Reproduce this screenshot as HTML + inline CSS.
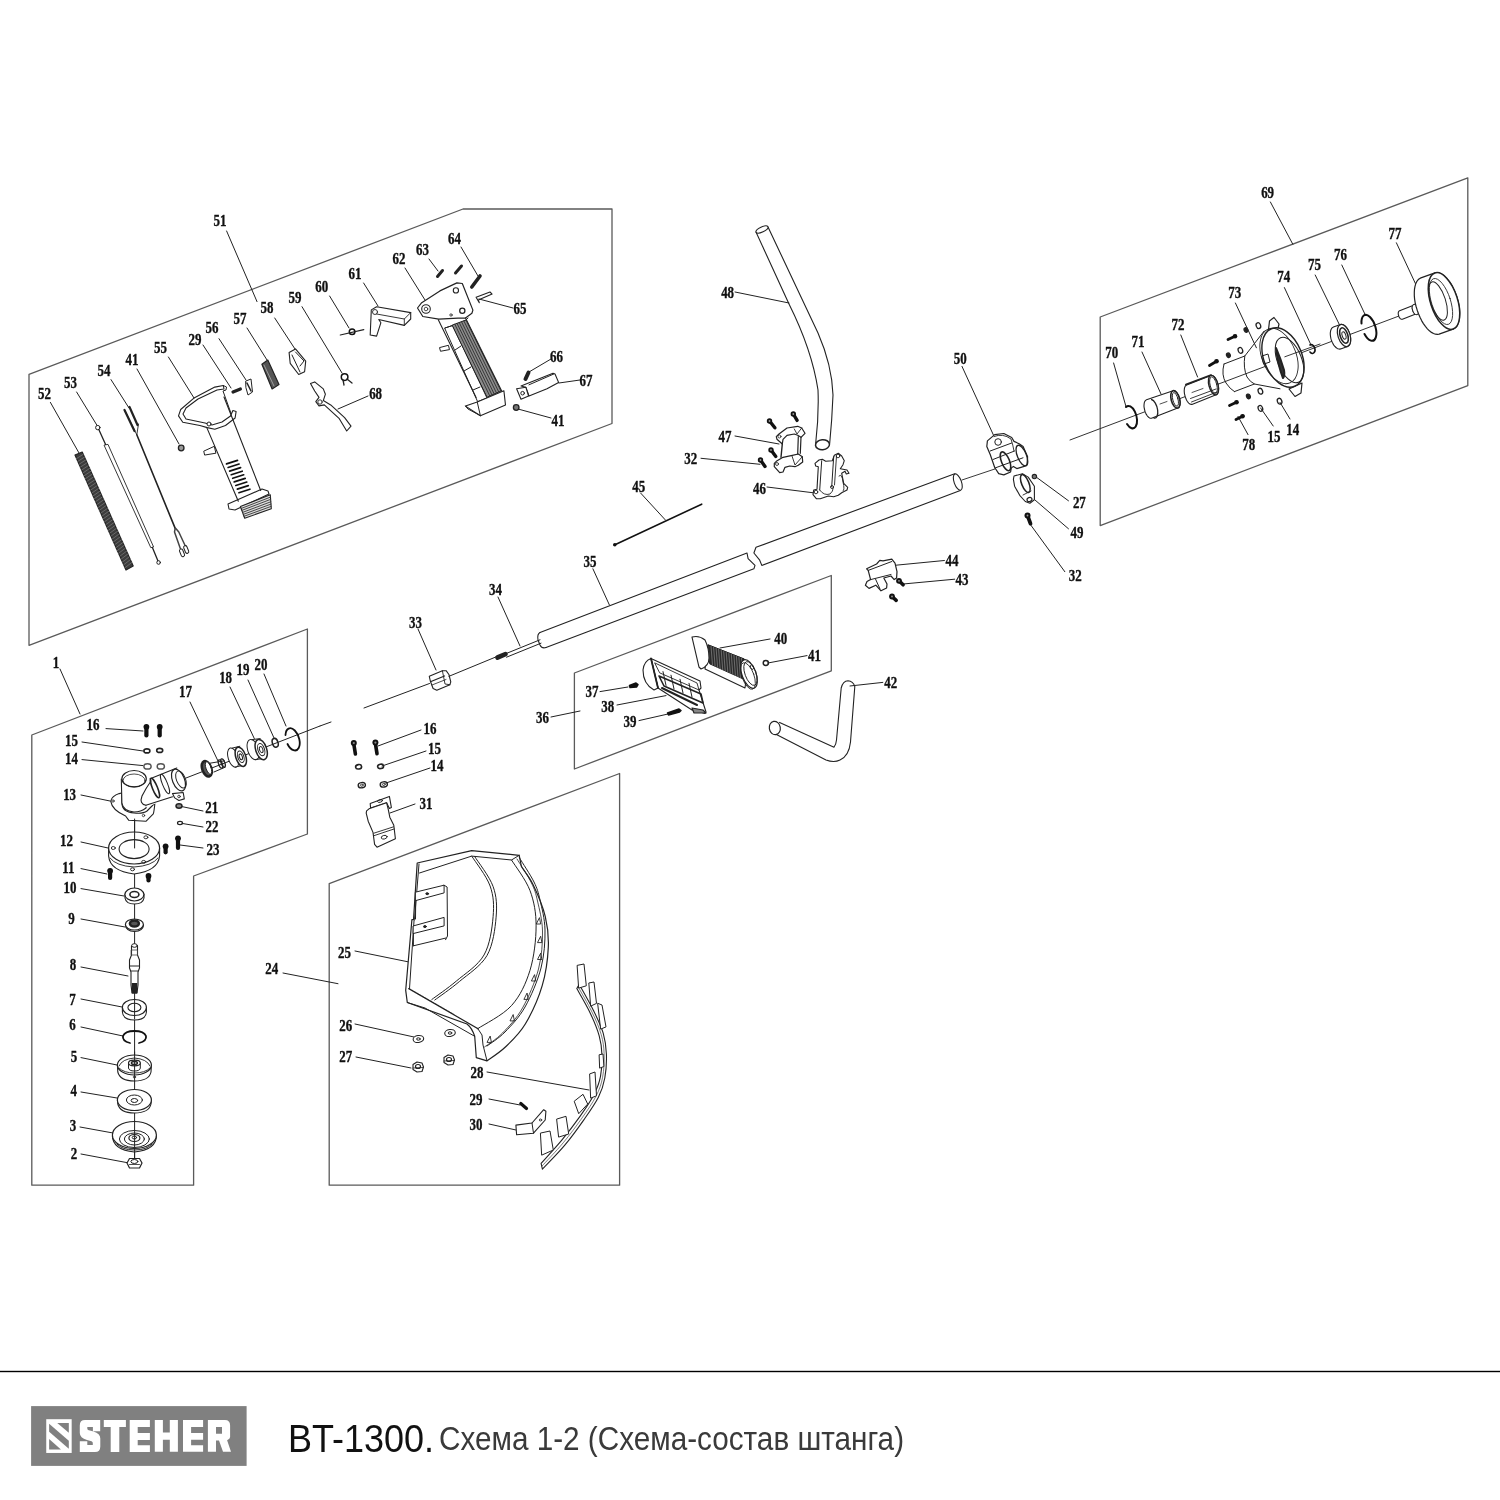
<!DOCTYPE html>
<html><head><meta charset="utf-8"><style>
html,body{margin:0;padding:0;background:#fff;width:1500px;height:1500px;overflow:hidden}
svg{position:absolute;left:0;top:0}
body{filter:grayscale(1)}
.title{position:absolute;left:290px;top:1412px;font-family:"Liberation Sans",sans-serif;white-space:nowrap;color:#111}
</style></head><body>
<svg width="1500" height="1500" viewBox="0 0 1500 1500">
<g stroke-linecap="round" stroke-linejoin="round">
<polygon points="29,374.3 463,209 612,209 612,423.5 29,645.3" fill="none" stroke="#5a5a5a" stroke-width="1.3"/>
<polygon points="1100.2,317 1467.8,177.8 1467.8,385.6 1100.2,525.6" fill="none" stroke="#5a5a5a" stroke-width="1.3"/>
<polygon points="574.4,673 831.3,575.5 831.3,670.8 574.4,769" fill="none" stroke="#5a5a5a" stroke-width="1.3"/>
<polygon points="31.8,735 307.4,629 307.4,834 193.6,876 193.6,1185.2 31.8,1185.2" fill="none" stroke="#5a5a5a" stroke-width="1.3"/>
<polygon points="329.2,883.6 619.6,773.5 619.6,1185.2 329.2,1185.2" fill="none" stroke="#5a5a5a" stroke-width="1.3"/>
<g transform="scale(0.785,1)" font-family="Liberation Serif" font-weight="bold" font-size="16.5" fill="#111" stroke="#111" stroke-width="0.35" text-anchor="middle">
<text x="280.3" y="226.5">51</text>
<text x="56.6" y="399.0">52</text>
<text x="89.7" y="388.0">53</text>
<text x="132.5" y="376.0">54</text>
<text x="168.2" y="365.0">41</text>
<text x="204.5" y="353.4">55</text>
<text x="248.4" y="344.7">29</text>
<text x="270.1" y="333.3">56</text>
<text x="305.7" y="324.0">57</text>
<text x="340.1" y="313.0">58</text>
<text x="375.8" y="302.7">59</text>
<text x="409.9" y="292.0">60</text>
<text x="452.2" y="279.0">61</text>
<text x="508.3" y="264.0">62</text>
<text x="538.1" y="255.0">63</text>
<text x="578.9" y="244.0">64</text>
<text x="662.4" y="314.0">65</text>
<text x="709.0" y="362.0">66</text>
<text x="746.5" y="386.0">67</text>
<text x="478.5" y="399.0">68</text>
<text x="710.8" y="426.0">41</text>
<text x="926.9" y="298.0">48</text>
<text x="923.6" y="442.0">47</text>
<text x="880.0" y="464.0">32</text>
<text x="967.6" y="494.0">46</text>
<text x="813.6" y="492.0">45</text>
<text x="751.6" y="566.9">35</text>
<text x="631.3" y="595.0">34</text>
<text x="529.4" y="628.0">33</text>
<text x="1223.3" y="364.0">50</text>
<text x="1375.0" y="508.0">27</text>
<text x="1372.0" y="538.5">49</text>
<text x="1369.7" y="580.7">32</text>
<text x="1212.6" y="566.5">44</text>
<text x="1225.5" y="585.2">43</text>
<text x="994.6" y="644.0">40</text>
<text x="1037.5" y="661.5">41</text>
<text x="1134.8" y="688.4">42</text>
<text x="691.2" y="723.0">36</text>
<text x="754.1" y="697.5">37</text>
<text x="774.3" y="712.0">38</text>
<text x="802.5" y="727.0">39</text>
<text x="547.8" y="734.0">16</text>
<text x="553.4" y="754.0">15</text>
<text x="556.7" y="771.0">14</text>
<text x="542.7" y="809.0">31</text>
<text x="1614.8" y="198.4">69</text>
<text x="1416.1" y="358.0">70</text>
<text x="1449.7" y="346.8">71</text>
<text x="1500.6" y="330.0">72</text>
<text x="1573.0" y="297.8">73</text>
<text x="1635.2" y="282.4">74</text>
<text x="1674.6" y="269.8">75</text>
<text x="1707.5" y="260.0">76</text>
<text x="1777.1" y="239.0">77</text>
<text x="1590.8" y="450.4">78</text>
<text x="1622.9" y="442.0">15</text>
<text x="1646.9" y="435.0">14</text>
<text x="71.3" y="668.0">1</text>
<text x="118.5" y="729.6">16</text>
<text x="91.2" y="746.0">15</text>
<text x="91.2" y="764.0">14</text>
<text x="236.4" y="697.0">17</text>
<text x="287.4" y="683.0">18</text>
<text x="309.6" y="675.0">19</text>
<text x="332.5" y="670.0">20</text>
<text x="88.7" y="800.0">13</text>
<text x="269.6" y="813.0">21</text>
<text x="270.1" y="832.0">22</text>
<text x="271.3" y="855.0">23</text>
<text x="84.6" y="846.0">12</text>
<text x="87.1" y="873.0">11</text>
<text x="89.2" y="893.0">10</text>
<text x="91.2" y="924.0">9</text>
<text x="93.0" y="970.0">8</text>
<text x="92.2" y="1005.0">7</text>
<text x="92.2" y="1030.0">6</text>
<text x="94.3" y="1062.0">5</text>
<text x="93.8" y="1096.0">4</text>
<text x="93.0" y="1131.0">3</text>
<text x="94.3" y="1159.0">2</text>
<text x="346.1" y="974.0">24</text>
<text x="438.7" y="958.0">25</text>
<text x="440.3" y="1031.0">26</text>
<text x="440.3" y="1062.0">27</text>
<text x="607.6" y="1078.0">28</text>
<text x="606.4" y="1105.0">29</text>
<text x="606.4" y="1130.0">30</text>
</g>
<line x1="226.6" y1="231" x2="257" y2="301.6" stroke="#222" stroke-width="1"/>
<line x1="50.4" y1="402.4" x2="79" y2="453" stroke="#222" stroke-width="1"/>
<line x1="76.6" y1="392" x2="97.4" y2="426" stroke="#222" stroke-width="1"/>
<line x1="111" y1="379.6" x2="129" y2="408" stroke="#222" stroke-width="1"/>
<line x1="137" y1="369" x2="179" y2="444" stroke="#222" stroke-width="1"/>
<line x1="168.4" y1="357" x2="194" y2="398" stroke="#222" stroke-width="1"/>
<line x1="203" y1="345" x2="231" y2="388" stroke="#222" stroke-width="1"/>
<line x1="219" y1="338.7" x2="246" y2="380" stroke="#222" stroke-width="1"/>
<line x1="247" y1="328" x2="267" y2="360" stroke="#222" stroke-width="1"/>
<line x1="274.7" y1="318" x2="295" y2="349" stroke="#222" stroke-width="1"/>
<line x1="302" y1="306.7" x2="342" y2="373" stroke="#222" stroke-width="1"/>
<line x1="329.6" y1="296" x2="349" y2="328" stroke="#222" stroke-width="1"/>
<line x1="363.6" y1="283" x2="378" y2="306" stroke="#222" stroke-width="1"/>
<line x1="405" y1="268" x2="425" y2="300" stroke="#222" stroke-width="1"/>
<line x1="429" y1="259" x2="438" y2="271" stroke="#222" stroke-width="1"/>
<line x1="461" y1="247" x2="478" y2="276" stroke="#222" stroke-width="1"/>
<line x1="513" y1="308" x2="479" y2="299" stroke="#222" stroke-width="1"/>
<line x1="551" y1="359" x2="529" y2="372" stroke="#222" stroke-width="1"/>
<line x1="580" y1="380" x2="559" y2="383" stroke="#222" stroke-width="1"/>
<line x1="368" y1="396" x2="338" y2="409" stroke="#222" stroke-width="1"/>
<line x1="551" y1="418" x2="518" y2="409" stroke="#222" stroke-width="1"/>
<line x1="735" y1="292" x2="789" y2="303" stroke="#222" stroke-width="1"/>
<line x1="735" y1="436" x2="779" y2="444" stroke="#222" stroke-width="1"/>
<line x1="701" y1="458.3" x2="760" y2="464.3" stroke="#222" stroke-width="1"/>
<line x1="767" y1="487" x2="815" y2="493" stroke="#222" stroke-width="1"/>
<line x1="640.5" y1="492.9" x2="665.4" y2="520" stroke="#222" stroke-width="1"/>
<line x1="592.9" y1="568.8" x2="609.4" y2="605" stroke="#222" stroke-width="1"/>
<line x1="498" y1="597" x2="520" y2="646" stroke="#222" stroke-width="1"/>
<line x1="418" y1="629" x2="436" y2="670" stroke="#222" stroke-width="1"/>
<line x1="962" y1="366.4" x2="995.7" y2="440" stroke="#222" stroke-width="1"/>
<line x1="1068.5" y1="500.8" x2="1036.8" y2="477.5" stroke="#222" stroke-width="1"/>
<line x1="1068.5" y1="528.8" x2="1035" y2="500" stroke="#222" stroke-width="1"/>
<line x1="1064.8" y1="571.7" x2="1030" y2="524" stroke="#222" stroke-width="1"/>
<line x1="944.4" y1="560.5" x2="895.9" y2="565.2" stroke="#222" stroke-width="1"/>
<line x1="954.7" y1="579.2" x2="904.3" y2="583.9" stroke="#222" stroke-width="1"/>
<line x1="770" y1="639" x2="720" y2="648" stroke="#222" stroke-width="1"/>
<line x1="807" y1="655.6" x2="768" y2="663" stroke="#222" stroke-width="1"/>
<line x1="882.8" y1="682.4" x2="850" y2="686" stroke="#222" stroke-width="1"/>
<line x1="551" y1="717" x2="580" y2="711" stroke="#222" stroke-width="1"/>
<line x1="600" y1="691.6" x2="628" y2="687" stroke="#222" stroke-width="1"/>
<line x1="617" y1="705" x2="666" y2="695.6" stroke="#222" stroke-width="1"/>
<line x1="639" y1="720.6" x2="668" y2="714" stroke="#222" stroke-width="1"/>
<line x1="421" y1="730" x2="378" y2="746" stroke="#222" stroke-width="1"/>
<line x1="426" y1="751" x2="382" y2="766" stroke="#222" stroke-width="1"/>
<line x1="430" y1="768" x2="386" y2="783" stroke="#222" stroke-width="1"/>
<line x1="415" y1="804" x2="390" y2="813" stroke="#222" stroke-width="1"/>
<line x1="1270.4" y1="202" x2="1292.8" y2="244.2" stroke="#222" stroke-width="1"/>
<line x1="1113.6" y1="363" x2="1126" y2="406.6" stroke="#222" stroke-width="1"/>
<line x1="1142" y1="352" x2="1161" y2="394" stroke="#222" stroke-width="1"/>
<line x1="1180.8" y1="335" x2="1197.6" y2="377" stroke="#222" stroke-width="1"/>
<line x1="1235.4" y1="303" x2="1256.4" y2="347.8" stroke="#222" stroke-width="1"/>
<line x1="1284.4" y1="287.6" x2="1311" y2="345" stroke="#222" stroke-width="1"/>
<line x1="1315.2" y1="275" x2="1341.8" y2="329.6" stroke="#222" stroke-width="1"/>
<line x1="1341.8" y1="265" x2="1365.6" y2="315.6" stroke="#222" stroke-width="1"/>
<line x1="1396.4" y1="242.8" x2="1416" y2="284.8" stroke="#222" stroke-width="1"/>
<line x1="1248" y1="434.6" x2="1238" y2="416.4" stroke="#222" stroke-width="1"/>
<line x1="1273.2" y1="426" x2="1260.6" y2="408" stroke="#222" stroke-width="1"/>
<line x1="1290" y1="419" x2="1280" y2="402.4" stroke="#222" stroke-width="1"/>
<line x1="60" y1="669" x2="80" y2="714" stroke="#222" stroke-width="1"/>
<line x1="106" y1="728.6" x2="143" y2="731" stroke="#222" stroke-width="1"/>
<line x1="82" y1="742" x2="143" y2="751" stroke="#222" stroke-width="1"/>
<line x1="82" y1="759.6" x2="143" y2="765.6" stroke="#222" stroke-width="1"/>
<line x1="190" y1="702" x2="218" y2="761" stroke="#222" stroke-width="1"/>
<line x1="230" y1="687" x2="255" y2="740" stroke="#222" stroke-width="1"/>
<line x1="248" y1="680" x2="274" y2="738" stroke="#222" stroke-width="1"/>
<line x1="264" y1="674" x2="286" y2="726" stroke="#222" stroke-width="1"/>
<line x1="81" y1="795" x2="110" y2="801" stroke="#222" stroke-width="1"/>
<line x1="203" y1="811" x2="181" y2="806.4" stroke="#222" stroke-width="1"/>
<line x1="203" y1="827" x2="182" y2="823.4" stroke="#222" stroke-width="1"/>
<line x1="203" y1="848" x2="180" y2="845" stroke="#222" stroke-width="1"/>
<line x1="81" y1="842" x2="108" y2="848" stroke="#222" stroke-width="1"/>
<line x1="81" y1="868.6" x2="107" y2="874" stroke="#222" stroke-width="1"/>
<line x1="81" y1="888.6" x2="124" y2="896" stroke="#222" stroke-width="1"/>
<line x1="81" y1="919" x2="125" y2="927" stroke="#222" stroke-width="1"/>
<line x1="81" y1="967" x2="128" y2="976" stroke="#222" stroke-width="1"/>
<line x1="81" y1="999" x2="122" y2="1007" stroke="#222" stroke-width="1"/>
<line x1="81" y1="1027" x2="123" y2="1036" stroke="#222" stroke-width="1"/>
<line x1="81" y1="1057.6" x2="117" y2="1065" stroke="#222" stroke-width="1"/>
<line x1="81" y1="1092" x2="117" y2="1098" stroke="#222" stroke-width="1"/>
<line x1="80" y1="1127" x2="113" y2="1133" stroke="#222" stroke-width="1"/>
<line x1="81" y1="1154" x2="129" y2="1163" stroke="#222" stroke-width="1"/>
<line x1="283" y1="973" x2="338" y2="983.7" stroke="#222" stroke-width="1"/>
<line x1="355" y1="951" x2="409" y2="962" stroke="#222" stroke-width="1"/>
<line x1="355" y1="1024" x2="414" y2="1037" stroke="#222" stroke-width="1"/>
<line x1="356" y1="1057" x2="411" y2="1068" stroke="#222" stroke-width="1"/>
<line x1="487" y1="1072" x2="589" y2="1090" stroke="#222" stroke-width="1"/>
<line x1="489" y1="1099" x2="520" y2="1105" stroke="#222" stroke-width="1"/>
<line x1="489" y1="1124" x2="516" y2="1130" stroke="#222" stroke-width="1"/>
<line x1="134.6" y1="819" x2="134.6" y2="848" stroke="#222" stroke-width="1.0"/>
<line x1="134.6" y1="869" x2="134.6" y2="1165" stroke="#222" stroke-width="1.0"/>
<line x1="186" y1="778" x2="320" y2="726" stroke="#222" stroke-width="1.0"/>
<line x1="146.4" y1="726.8" x2="146.4" y2="735.5" stroke="#111" stroke-width="4.2"/><circle cx="146.4" cy="726.8" r="2.9" fill="#111"/>
<line x1="159.7" y1="726.8" x2="159.7" y2="735.5" stroke="#111" stroke-width="4.2"/><circle cx="159.7" cy="726.8" r="2.9" fill="#111"/>
<ellipse cx="146.9" cy="750.9" rx="3" ry="2" transform="rotate(0 146.9 750.9)" fill="none" stroke="#222" stroke-width="1.6" />
<ellipse cx="159.7" cy="750.4" rx="3" ry="2" transform="rotate(0 159.7 750.4)" fill="none" stroke="#222" stroke-width="1.6" />
<ellipse cx="147.5" cy="766.4" rx="3.6" ry="2.6" transform="rotate(0 147.5 766.4)" fill="none" stroke="#555" stroke-width="1.5" />
<ellipse cx="160.8" cy="766.4" rx="3.6" ry="2.6" transform="rotate(0 160.8 766.4)" fill="none" stroke="#555" stroke-width="1.5" />
<path d="M110.7,801.1 Q112,796 119.2,793.6 L121.5,793 L121.9,803 Q122,812 134,813 Q143,814 147,811 L152,806 L154.9,803.2 Q154,812 153.3,813.9 L145.9,821.3 L128.8,820.3 L125.6,816 Q112,810 110.7,801.1 Z" fill="#fff" stroke="#222" stroke-width="1.1"/>
<path d="M121.3,779 L121.9,803.2 Q123,811 134,812 Q141,812 146,808 L150,782" fill="#fff" stroke="#222" stroke-width="1.1"/>
<ellipse cx="134.1" cy="778.7" rx="12.2" ry="8.2" transform="rotate(0 134.1 778.7)" fill="#fff" stroke="#222" stroke-width="1.2" />
<ellipse cx="134.1" cy="780.5" rx="11" ry="6.5" transform="rotate(0 134.1 780.5)" fill="none" stroke="#222" stroke-width="0.8" />
<path d="M147,781 L150.1,778.7 L176.8,768 L184,788 L172.5,796.8 L147,807 Q138,806 140,798 Z" fill="#fff" stroke="none"/>
<line x1="150.1" y1="778.7" x2="176.8" y2="768" stroke="#222" stroke-width="1.1"/>
<path d="M145.9,805.3 Q139,804 142,796 Q146,788 151,781" fill="none" stroke="#222" stroke-width="1.1"/>
<line x1="145.9" y1="805.3" x2="172.5" y2="796.8" stroke="#222" stroke-width="1.1"/>
<ellipse cx="155" cy="788" rx="2.5" ry="10.5" transform="rotate(-22 155 788)" fill="none" stroke="#222" stroke-width="1.6" />
<ellipse cx="165" cy="784" rx="2.5" ry="10.5" transform="rotate(-22 165 784)" fill="none" stroke="#222" stroke-width="1.0" />
<path d="M172.5,793.6 L183.2,792.5 L184.3,798.9 L178.9,800.5 L174.7,797.9 Z" fill="#fff" stroke="#222" stroke-width="1.1" />
<circle cx="179" cy="796.5" r="1.3" fill="none" stroke="#222" stroke-width="0.8"/>
<ellipse cx="178.5" cy="780" rx="6" ry="11.5" transform="rotate(-22 178.5 780)" fill="#fff" stroke="#222" stroke-width="1.2" />
<ellipse cx="181" cy="779.5" rx="4.5" ry="9" transform="rotate(-22 181 779.5)" fill="none" stroke="#222" stroke-width="1.0" />
<circle cx="113" cy="801" r="1.2" fill="none" stroke="#222" stroke-width="0.8"/>
<circle cx="143.5" cy="815.5" r="1.2" fill="none" stroke="#222" stroke-width="0.8"/>
<line x1="210" y1="763.2" x2="224.4" y2="760.8" stroke="#222" stroke-width="1.0"/>
<line x1="214" y1="772" x2="225.2" y2="767.2" stroke="#222" stroke-width="1.0"/>
<ellipse cx="206.8" cy="768.8" rx="4.5" ry="8" transform="rotate(-20 206.8 768.8)" fill="#555" stroke="#222" stroke-width="2.6" />
<ellipse cx="208.5" cy="768" rx="2.5" ry="6.5" transform="rotate(-20 208.5 768)" fill="#fff" stroke="#222" stroke-width="0.9" />
<ellipse cx="220.5" cy="764" rx="1.8" ry="4.3" transform="rotate(-20 220.5 764)" fill="none" stroke="#222" stroke-width="1.4" />
<ellipse cx="223" cy="763" rx="1.8" ry="4.3" transform="rotate(-20 223 763)" fill="none" stroke="#222" stroke-width="1.4" />
<path d="M233.2,747.6 L240.8,745.8 L240.8,765.8 L233.2,767.6 Z" fill="#fff" stroke="none"/>
<ellipse cx="233.2" cy="757.6" rx="5" ry="10" transform="rotate(-18 233.2 757.6)" fill="#fff" stroke="#222" stroke-width="1.0" />
<path d="M232.2,748.1 L239.8,746.3 M235.2,767.1 L242.8,765.3" stroke="#222" stroke-width="1"/>
<ellipse cx="240.8" cy="756.8" rx="5" ry="10" transform="rotate(-18 240.8 756.8)" fill="#fff" stroke="#222" stroke-width="1.5" />
<ellipse cx="240.8" cy="756.8" rx="3.0" ry="6.0" transform="rotate(-18 240.8 756.8)" fill="none" stroke="#222" stroke-width="1.0" />
<ellipse cx="240.8" cy="756.8" rx="1.5" ry="3.0" transform="rotate(-18 240.8 756.8)" fill="none" stroke="#222" stroke-width="1.0" />
<path d="M253.2,739.1 L261.2,738.1 L261.2,759.1 L253.2,760.1 Z" fill="#fff" stroke="none"/>
<ellipse cx="253.2" cy="749.6" rx="5.5" ry="10.5" transform="rotate(-18 253.2 749.6)" fill="#fff" stroke="#222" stroke-width="1.0" />
<path d="M252.2,739.6 L260.2,738.6 M255.2,759.6 L263.2,758.6" stroke="#222" stroke-width="1"/>
<ellipse cx="261.2" cy="749.6" rx="5.5" ry="10.5" transform="rotate(-18 261.2 749.6)" fill="#fff" stroke="#222" stroke-width="1.5" />
<ellipse cx="261.2" cy="749.6" rx="3.3" ry="6.3" transform="rotate(-18 261.2 749.6)" fill="none" stroke="#222" stroke-width="1.0" />
<ellipse cx="261.2" cy="749.6" rx="1.65" ry="3.15" transform="rotate(-18 261.2 749.6)" fill="none" stroke="#222" stroke-width="1.0" />
<ellipse cx="275.2" cy="742.8" rx="2.8" ry="4.5" transform="rotate(-18 275.2 742.8)" fill="none" stroke="#222" stroke-width="1.5" />
<path d="M285.5,735 A6.5 11.5 -18 1 1 287.5,744" fill="none" stroke="#111" stroke-width="1.8"/>
<ellipse cx="179" cy="806" rx="3" ry="2.2" transform="rotate(0 179 806)" fill="#888" stroke="#222" stroke-width="1.5" />
<ellipse cx="180" cy="823" rx="2.5" ry="1.6" transform="rotate(0 180 823)" fill="none" stroke="#222" stroke-width="1.2" />
<line x1="178" y1="838.3" x2="178" y2="848" stroke="#111" stroke-width="4.2"/><circle cx="178" cy="838.3" r="2.9" fill="#111"/>
<path d="M108.6,848 L108.6,856 Q110,871 134.1,874 Q158,871 159.6,856 L159.6,848" fill="#fff" stroke="#222" stroke-width="1.1"/>
<ellipse cx="134.1" cy="848" rx="25.5" ry="16" transform="rotate(0 134.1 848)" fill="#fff" stroke="#222" stroke-width="1.2" />
<ellipse cx="134.1" cy="849.1" rx="15" ry="9.5" transform="rotate(0 134.1 849.1)" fill="none" stroke="#222" stroke-width="1.1" />
<path d="M110,858 Q116,866 134,867 Q152,866 158,858" fill="none" stroke="#222" stroke-width="0.9"/>
<ellipse cx="145.9" cy="837.3" rx="2" ry="1.5" transform="rotate(0 145.9 837.3)" fill="none" stroke="#222" stroke-width="0.9" />
<ellipse cx="113.3" cy="848" rx="2" ry="1.5" transform="rotate(0 113.3 848)" fill="none" stroke="#222" stroke-width="0.9" />
<ellipse cx="143.7" cy="861.9" rx="2" ry="1.5" transform="rotate(0 143.7 861.9)" fill="none" stroke="#222" stroke-width="0.9" />
<ellipse cx="132.5" cy="869.3" rx="2" ry="1.5" transform="rotate(0 132.5 869.3)" fill="none" stroke="#222" stroke-width="0.9" />
<line x1="134.6" y1="819" x2="134.6" y2="848" stroke="#222" stroke-width="1.0"/>
<line x1="165.6" y1="846.3" x2="165.6" y2="852.3" stroke="#111" stroke-width="4.2"/><circle cx="165.6" cy="846.3" r="2.9" fill="#111"/>
<line x1="110.1" y1="870.8" x2="110.1" y2="877.9" stroke="#111" stroke-width="4.2"/><circle cx="110.1" cy="870.8" r="2.9" fill="#111"/>
<line x1="148.5" y1="876.0" x2="148.5" y2="880.5" stroke="#111" stroke-width="4.2"/><circle cx="148.5" cy="876.0" r="2.9" fill="#111"/>
<path d="M125,894 L125,898 Q126,904 134.4,904 Q143,904 144,898 L144,894" fill="#fff" stroke="#222" stroke-width="1.1"/>
<ellipse cx="134.4" cy="894.5" rx="9.5" ry="6.5" transform="rotate(0 134.4 894.5)" fill="#fff" stroke="#222" stroke-width="1.2" />
<ellipse cx="134.4" cy="894.5" rx="4.5" ry="3" transform="rotate(0 134.4 894.5)" fill="none" stroke="#222" stroke-width="1.6" />
<path d="M125.5,925 Q126,931 134.4,931.5 Q143,931 143.5,925" fill="#fff" stroke="#222" stroke-width="1.2"/>
<ellipse cx="134.4" cy="924.5" rx="9" ry="5.5" transform="rotate(0 134.4 924.5)" fill="#fff" stroke="#222" stroke-width="1.2" />
<ellipse cx="134.4" cy="923.5" rx="4.5" ry="3" transform="rotate(0 134.4 923.5)" fill="#555" stroke="#222" stroke-width="2.5" />
<path d="M131.5,946 L131.5,955 L129.5,960 L129.5,968 L131,972 L131,985 L132,993 L137,993 L138,985 L138,972 L139.5,968 L139.5,960 L137.5,955 L137.5,946 Z" fill="#fff" stroke="#222" stroke-width="1.1"/>
<ellipse cx="134.5" cy="945.5" rx="2.8" ry="1.8" transform="rotate(0 134.5 945.5)" fill="#fff" stroke="#222" stroke-width="1.0" />
<line x1="130" y1="966" x2="139" y2="966" stroke="#222" stroke-width="1.0"/>
<line x1="131" y1="971" x2="138" y2="971" stroke="#222" stroke-width="0.9"/>
<rect x="131.8" y="983" width="5.4" height="10.5" fill="#222"/>
<rect x="131.5" y="950" width="6" height="5" fill="none" stroke="#444" stroke-width="0.8"/>
<path d="M122.4,1008 L122.4,1012 Q123,1020 134.4,1020 Q146,1020 146.4,1012 L146.4,1008" fill="#fff" stroke="#222" stroke-width="1.1"/>
<ellipse cx="134.4" cy="1007.5" rx="12" ry="8" transform="rotate(0 134.4 1007.5)" fill="#fff" stroke="#222" stroke-width="1.2" />
<ellipse cx="134.4" cy="1007.5" rx="6.5" ry="4.2" transform="rotate(0 134.4 1007.5)" fill="none" stroke="#222" stroke-width="1.1" />
<line x1="134.6" y1="999" x2="134.6" y2="1019" stroke="#222" stroke-width="1.0"/>
<path d="M130,1043 Q122,1041 123,1036 Q125,1031 134.4,1031 Q144,1031 146,1036 Q147,1041 139,1043" fill="none" stroke="#111" stroke-width="1.8"/>
<path d="M117.4,1065 L117.8,1072 Q120,1081 134.4,1081 Q149,1081 151,1072 L151.4,1065" fill="#fff" stroke="#222" stroke-width="1.1"/>
<ellipse cx="134.4" cy="1065" rx="17" ry="10" transform="rotate(0 134.4 1065)" fill="#fff" stroke="#222" stroke-width="1.2" />
<path d="M119,1068 Q124,1073 134.4,1073 Q145,1073 150,1068" fill="none" stroke="#222" stroke-width="0.9"/>
<path d="M119,1066 Q122,1059 134.4,1058 Q147,1059 150,1066" fill="none" stroke="#222" stroke-width="0.9"/>
<path d="M128.5,1063 L128.5,1068 Q129,1071 134.4,1071 Q140,1071 140.3,1068 L140.3,1063" fill="#fff" stroke="#222" stroke-width="1.0"/>
<ellipse cx="134.4" cy="1063" rx="5.9" ry="2.8" transform="rotate(0 134.4 1063)" fill="#fff" stroke="#222" stroke-width="1.2" />
<ellipse cx="134.4" cy="1063" rx="3" ry="1.5" transform="rotate(0 134.4 1063)" fill="none" stroke="#222" stroke-width="1.4" />
<ellipse cx="134.4" cy="1077" rx="1.2" ry="1" transform="rotate(0 134.4 1077)" fill="none" stroke="#222" stroke-width="0.8" />
<line x1="134.6" y1="1052" x2="134.6" y2="1081" stroke="#222" stroke-width="1.0"/>
<path d="M117.4,1100 L117.8,1104 Q120,1113 134.4,1113 Q149,1113 151,1104 L151.4,1100" fill="#fff" stroke="#222" stroke-width="1.1"/>
<ellipse cx="134.4" cy="1100" rx="17" ry="10.5" transform="rotate(0 134.4 1100)" fill="#fff" stroke="#222" stroke-width="1.2" />
<ellipse cx="134.4" cy="1100" rx="8" ry="5" transform="rotate(0 134.4 1100)" fill="none" stroke="#222" stroke-width="1.0" />
<ellipse cx="134.4" cy="1100.5" rx="3.3" ry="2" transform="rotate(0 134.4 1100.5)" fill="none" stroke="#222" stroke-width="1.0" />
<path d="M112.4,1136 Q113,1150 134.4,1152 Q156,1150 156.4,1136" fill="#fff" stroke="#222" stroke-width="1.2"/>
<ellipse cx="134.4" cy="1135" rx="22" ry="13.5" transform="rotate(0 134.4 1135)" fill="#fff" stroke="#222" stroke-width="1.2" />
<ellipse cx="134.4" cy="1139" rx="15" ry="8.5" transform="rotate(0 134.4 1139)" fill="none" stroke="#222" stroke-width="1.0" />
<ellipse cx="134.4" cy="1139" rx="10" ry="6" transform="rotate(0 134.4 1139)" fill="none" stroke="#222" stroke-width="1.0" />
<ellipse cx="134.4" cy="1138" rx="5.5" ry="3.5" transform="rotate(0 134.4 1138)" fill="none" stroke="#222" stroke-width="1.2" />
<ellipse cx="134.4" cy="1137.5" rx="2.2" ry="1.5" transform="rotate(0 134.4 1137.5)" fill="none" stroke="#222" stroke-width="1.0" />
<path d="M117,1144 Q122,1150 134.4,1150 Q147,1150 152,1144" fill="none" stroke="#222" stroke-width="1.0"/>
<line x1="134.6" y1="1121" x2="134.6" y2="1160" stroke="#222" stroke-width="1.0"/>
<path d="M129.5,1158.5 L139.5,1158.5 L142.0,1163.0 L139.5,1168.0 L129.5,1168.0 L127.0,1163.0 Z" fill="#fff" stroke="#222" stroke-width="1.2" />
<ellipse cx="134.4" cy="1161.5" rx="3.5" ry="2" transform="rotate(0 134.4 1161.5)" fill="none" stroke="#222" stroke-width="1.0" />
<line x1="129.5" y1="1164.5" x2="139.5" y2="1164.5" stroke="#222" stroke-width="0.8"/>
<path d="M417.2,863 L471.7,850.7 L519.2,855.3 L521.5,866.8  C523.4,869.8 529.0,876.2 533.0,884.5 C537.0,892.8 542.8,906.2 545.3,916.7 C547.8,927.2 548.8,935.8 548.3,947.3 C547.8,958.8 546.0,972.9 542.2,985.7 C538.4,998.5 531.4,1013.8 525.3,1024.0 C519.2,1034.2 511.8,1040.9 505.4,1047.0 C499.0,1053.1 490.1,1058.5 487.0,1060.8 L476.3,1057.7 L474.7,1036.3 Q472,1028 467,1024 L407.3,1002.5 L405.7,990.3 L411.9,919.7 L413.5,919.7 Z" fill="#fff" stroke="#222" stroke-width="1.2"/>
<path d="M419.0,864.0 L414.5,919.5 L414.0,921.0 L409.5,988.7" fill="none" stroke="#222" stroke-width="1.0" />
<path d="M419.5,873.0 L471.7,856.1 L511.5,860.0 L519.2,855.3" fill="none" stroke="#222" stroke-width="1.0" />
<path d="M471.7,856.1 C474.8,861.1 486.5,875.9 490.1,886.0 C493.7,896.1 494.1,905.2 493.1,916.7 C492.1,928.2 490.1,944.3 484.0,955.0 C477.9,965.7 465.0,973.7 456.3,981.1 C447.6,988.5 435.9,996.4 431.8,999.5" fill="none" stroke="#222" stroke-width="1.0"/>
<path d="M474.7,856.6 C477.8,861.6 489.5,876.4 493.1,886.5 C496.7,896.6 497.1,905.7 496.1,917.2 C495.1,928.7 493.1,944.8 487.0,955.5 C480.9,966.2 468.0,974.2 459.3,981.6 C450.6,989.0 438.9,996.9 434.8,1000.0" fill="none" stroke="#222" stroke-width="1.0"/>
<path d="M511.5,860.0 C514.6,865.1 525.9,879.6 530.0,890.6 C534.1,901.6 536.1,912.6 536.1,925.9 C536.1,939.2 534.1,957.0 530.0,970.3 C525.9,983.6 520.2,995.9 511.5,1005.6 C502.8,1015.3 483.4,1024.8 477.8,1028.6" fill="none" stroke="#222" stroke-width="1.0"/>
<path d="M519.5,858.0 C521.9,862.0 530.6,875.0 534.0,882.0 C537.4,889.0 538.2,892.0 540.0,900.0 C541.8,908.0 544.8,918.7 545.0,930.0 C545.2,941.3 544.3,955.2 541.0,968.0 C537.7,980.8 531.0,996.3 525.0,1007.0 C519.0,1017.7 511.3,1025.5 505.0,1032.0 C498.7,1038.5 490.0,1043.7 487.0,1046.0" fill="none" stroke="#222" stroke-width="1.0"/>
<path d="M517.0,859.0 C519.4,863.0 528.1,876.0 531.5,883.0 C534.9,890.0 535.7,893.0 537.5,901.0 C539.3,909.0 542.3,919.7 542.5,931.0 C542.7,942.3 541.8,956.2 538.5,969.0 C535.2,981.8 528.5,997.3 522.5,1008.0 C516.5,1018.7 508.8,1026.5 502.5,1033.0 C496.2,1039.5 487.5,1044.7 484.5,1047.0" fill="none" stroke="#222" stroke-width="0.8"/>
<path d="M539.3,918.0 L536.3,924.0 L540.3,924.0 Z" fill="none" stroke="#222" stroke-width="0.9" />
<path d="M540.5,936.6 L537.5,942.6 L541.5,942.6 Z" fill="none" stroke="#222" stroke-width="0.9" />
<path d="M540.5,953.5 L537.5,959.5 L541.5,959.5 Z" fill="none" stroke="#222" stroke-width="0.9" />
<path d="M534.4,975.0 L531.4,981.0 L535.4,981.0 Z" fill="none" stroke="#222" stroke-width="0.9" />
<path d="M526.9,993.4 L523.9,999.4 L527.9,999.4 Z" fill="none" stroke="#222" stroke-width="0.9" />
<path d="M513.0,1014.9 L510.0,1020.9 L514.0,1020.9 Z" fill="none" stroke="#222" stroke-width="0.9" />
<path d="M490.0,1036.4 L487.0,1042.4 L491.0,1042.4 Z" fill="none" stroke="#222" stroke-width="0.9" />
<path d="M408.8,988.7 L477.8,1028.6" fill="none" stroke="#222" stroke-width="1.4" stroke-dasharray="2 1"/>
<path d="M407.3,1002.5 L425.0,1008.0 L474.7,1036.3" fill="none" stroke="#222" stroke-width="1.0" />
<path d="M477.8,1028.6 L482.0,1035.0 L483.0,1045.0 L487.0,1060.8" fill="none" stroke="#222" stroke-width="1.0" />
<path d="M415.7,892.1 L444.1,885.2 L444.1,892.9 L415.7,900.6 Z" fill="#fff" stroke="#222" stroke-width="1.0" />
<path d="M444.1,885.2 L447.1,887.0 L447.5,936.0 L445.6,939.7" fill="none" stroke="#222" stroke-width="1.0" />
<path d="M413.4,925.9 L444.1,917.4 L444.1,925.9 L413.4,933.5 Z" fill="#fff" stroke="#222" stroke-width="1.0" />
<path d="M413.4,945.8 L445.6,938.1" fill="none" stroke="#222" stroke-width="1.0" />
<path d="M413.4,933.5 L413.4,945.8" fill="none" stroke="#222" stroke-width="1.0" />
<path d="M415.7,900.6 L415.5,919.0" fill="none" stroke="#222" stroke-width="1.0" />
<ellipse cx="427.2" cy="893.7" rx="1.4" ry="1" transform="rotate(0 427.2 893.7)" fill="#222" stroke="#222" stroke-width="1.0" />
<ellipse cx="424.9" cy="926.6" rx="1.4" ry="1" transform="rotate(0 424.9 926.6)" fill="#222" stroke="#222" stroke-width="1.0" />
<ellipse cx="418.4" cy="1039" rx="5.3" ry="3.5" transform="rotate(-8 418.4 1039)" fill="#fff" stroke="#222" stroke-width="1.1" />
<ellipse cx="418.4" cy="1039" rx="1.8" ry="1.2" transform="rotate(0 418.4 1039)" fill="none" stroke="#222" stroke-width="1.0" />
<ellipse cx="450" cy="1033" rx="5.3" ry="3.5" transform="rotate(-8 450 1033)" fill="#fff" stroke="#222" stroke-width="1.1" />
<ellipse cx="450" cy="1033" rx="1.8" ry="1.2" transform="rotate(0 450 1033)" fill="none" stroke="#222" stroke-width="1.0" />
<path d="M413.0,1064.5 L417.0,1062.0 L422.0,1063.0 L423.5,1067.0 L422.0,1071.5 L417.0,1072.0 L413.0,1069.5 Z" fill="#fff" stroke="#222" stroke-width="1.1" />
<ellipse cx="418" cy="1066.5" rx="2.5" ry="2" transform="rotate(0 418 1066.5)" fill="none" stroke="#222" stroke-width="1.2" />
<line x1="413" y1="1068" x2="423" y2="1067.5" stroke="#222" stroke-width="0.8"/>
<path d="M444.0,1057.5 L448.0,1055.0 L453.0,1056.0 L454.5,1060.0 L453.0,1064.5 L448.0,1065.0 L444.0,1062.5 Z" fill="#fff" stroke="#222" stroke-width="1.1" />
<ellipse cx="449" cy="1059.5" rx="2.5" ry="2" transform="rotate(0 449 1059.5)" fill="none" stroke="#222" stroke-width="1.2" />
<line x1="444" y1="1061" x2="454" y2="1060.5" stroke="#222" stroke-width="0.8"/>
<path d="M579.2,984.4 C581.6,988.8 589.6,1002.7 593.6,1010.8 C597.6,1018.9 601.1,1026.0 603.2,1033.2 C605.3,1040.4 606.1,1046.5 606.4,1054.0 C606.7,1061.5 606.1,1070.8 604.8,1078.0 C603.5,1085.2 601.9,1090.3 598.4,1097.2 C594.9,1104.1 589.6,1111.6 584.0,1119.6 C578.4,1127.6 571.7,1136.9 564.8,1145.2 C557.9,1153.5 546.1,1165.2 542.4,1169.2 L541.1,1163.4 C544.5,1159.6 555.1,1148.2 561.6,1140.4 C568.1,1132.6 574.6,1124.0 580.0,1116.4 C585.4,1108.8 590.5,1101.5 593.9,1094.8 C597.3,1088.1 599.2,1083.2 600.5,1076.4 C601.8,1069.6 602.1,1060.8 601.9,1054.0 C601.7,1047.2 601.1,1042.6 599.2,1035.8 C597.3,1029.0 594.1,1021.3 590.4,1013.4 C586.7,1005.5 579.1,992.7 576.8,988.6 Z" fill="#fff" stroke="#222" stroke-width="1.1"/>
<path d="M578.0,986.5 C580.3,990.8 588.1,1004.1 592.0,1012.1 C595.9,1020.1 599.2,1027.5 601.2,1034.5 C603.2,1041.5 603.9,1046.9 604.1,1054.0 C604.4,1061.1 604.0,1070.2 602.6,1077.2 C601.3,1084.2 599.6,1089.2 596.1,1096.0 C592.7,1102.8 587.5,1110.2 582.0,1118.0 C576.5,1125.8 569.9,1134.8 563.2,1142.8 C556.5,1150.9 545.3,1162.4 541.8,1166.3" fill="none" stroke="#444" stroke-width="0.7"/>
<path d="M577.5,965.3 L584.0,964.0 L586.3,985.8 L579.0,988.0 Z" fill="#fff" stroke="#222" stroke-width="1.0" />
<path d="M589.2,982.9 L594.0,982.0 L596.5,1003.4 L591.0,1006.0 Z" fill="#fff" stroke="#222" stroke-width="1.0" />
<path d="M598.0,1003.4 L602.0,1005.0 L606.0,1026.9 L601.0,1029.0 Z" fill="#fff" stroke="#222" stroke-width="1.0" />
<path d="M599.5,1054.7 L603.0,1054.0 L603.9,1066.5 L600.0,1068.0 Z" fill="#fff" stroke="#222" stroke-width="1.0" />
<path d="M590.0,1073.8 L595.0,1072.0 L596.5,1095.8 L591.0,1098.0 Z" fill="#fff" stroke="#222" stroke-width="1.0" />
<path d="M574.5,1101.0 L583.0,1094.3 L587.7,1104.0 L579.0,1113.4 Z" fill="#fff" stroke="#222" stroke-width="1.0" />
<path d="M557.0,1119.0 L566.0,1116.3 L568.7,1134.0 L559.0,1137.0 Z" fill="#fff" stroke="#222" stroke-width="1.0" />
<path d="M540.8,1133.0 L550.0,1131.0 L553.3,1150.0 L542.0,1155.0 Z" fill="#fff" stroke="#222" stroke-width="1.0" />
<line x1="520.8" y1="1103.5" x2="526.5" y2="1108.5" stroke="#111" stroke-width="3.2"/>
<path d="M515.9,1125.1 L532.0,1123.0 L543.7,1109.7 L545.9,1111.2 L545.2,1120.0 L533.5,1133.2 L516.6,1134.7 Z" fill="#fff" stroke="#222" stroke-width="1.1" />
<path d="M532.0,1123.0 L533.5,1133.2" fill="none" stroke="#222" stroke-width="1.0" />
<ellipse cx="540.5" cy="1120" rx="1.2" ry="1" transform="rotate(0 540.5 1120)" fill="none" stroke="#222" stroke-width="0.9" />
<path d="M708.0,645.0 L744.0,659.0 L745.5,684.0 L745.0,688.0 L705.0,669.0 Z" fill="#fff" stroke="#222" stroke-width="1.1" />
<path d="M708.5,645.0 L744.0,659.0 L745.5,680.0 L710.0,664.0 Z" fill="#2a2a2a" stroke="#222" stroke-width="1.0" />
<line x1="711.0" y1="646.0" x2="712.5" y2="665.1" stroke="#999" stroke-width="0.6"/>
<line x1="713.6" y1="647.0" x2="715.1" y2="666.3" stroke="#999" stroke-width="0.6"/>
<line x1="716.1" y1="648.0" x2="717.6" y2="667.4" stroke="#999" stroke-width="0.6"/>
<line x1="718.6" y1="649.0" x2="720.1" y2="668.6" stroke="#999" stroke-width="0.6"/>
<line x1="721.2" y1="650.0" x2="722.7" y2="669.7" stroke="#999" stroke-width="0.6"/>
<line x1="723.7" y1="651.0" x2="725.2" y2="670.9" stroke="#999" stroke-width="0.6"/>
<line x1="726.2" y1="652.0" x2="727.8" y2="672.0" stroke="#999" stroke-width="0.6"/>
<line x1="728.8" y1="653.0" x2="730.3" y2="673.1" stroke="#999" stroke-width="0.6"/>
<line x1="731.3" y1="654.0" x2="732.8" y2="674.3" stroke="#999" stroke-width="0.6"/>
<line x1="733.9" y1="655.0" x2="735.4" y2="675.4" stroke="#999" stroke-width="0.6"/>
<line x1="736.4" y1="656.0" x2="737.9" y2="676.6" stroke="#999" stroke-width="0.6"/>
<line x1="738.9" y1="657.0" x2="740.4" y2="677.7" stroke="#999" stroke-width="0.6"/>
<line x1="741.5" y1="658.0" x2="743.0" y2="678.9" stroke="#999" stroke-width="0.6"/>
<path d="M692,637 Q699,635 705,640 Q709,648 709,658 Q709,666 701,669 L699,667 Z" fill="#fff" stroke="#222" stroke-width="1.1"/>
<ellipse cx="749" cy="674" rx="7" ry="15" transform="rotate(-20 749 674)" fill="#fff" stroke="#222" stroke-width="1.2" />
<ellipse cx="750.5" cy="673.5" rx="5.5" ry="12.5" transform="rotate(-20 750.5 673.5)" fill="none" stroke="#222" stroke-width="0.9" />
<ellipse cx="748" cy="676" rx="6" ry="14" transform="rotate(-20 748 676)" fill="none" stroke="#222" stroke-width="0.8" />
<ellipse cx="752" cy="667" rx="1.5" ry="2.5" transform="rotate(-20 752 667)" fill="none" stroke="#222" stroke-width="0.9" />
<ellipse cx="765.8" cy="663" rx="2.6" ry="2.4" transform="rotate(0 765.8 663)" fill="none" stroke="#222" stroke-width="1.5" />
<path d="M651.0,658.5 L700.0,681.0 L701.0,688.0 L699.0,690.0 L706.0,712.0 L705.0,713.5 L697.0,711.0 L692.0,710.0 L658.0,688.0 Z" fill="#fff" stroke="#222" stroke-width="1.1" />
<path d="M651,658.5 Q644,661 643,670 Q643,684 654,690 L658,688 Z" fill="#fff" stroke="#222" stroke-width="1.1"/>
<path d="M651.0,658.5 L658.0,688.0" fill="none" stroke="#222" stroke-width="1.8" />
<path d="M655.0,663.0 L697.0,683.0 L699.0,690.0 L660.0,673.0 Z" fill="none" stroke="#222" stroke-width="0.9" />
<path d="M659.0,676.0 L701.0,694.0 L703.0,703.0 L664.0,686.0 Z" fill="none" stroke="#222" stroke-width="1.6" />
<line x1="663" y1="671.6" x2="666" y2="685.35" stroke="#222" stroke-width="1.0"/>
<line x1="671" y1="675.2" x2="674" y2="688.95" stroke="#222" stroke-width="1.0"/>
<line x1="680" y1="679.25" x2="683" y2="693.0" stroke="#222" stroke-width="1.0"/>
<line x1="689" y1="683.3" x2="692" y2="697.05" stroke="#222" stroke-width="1.0"/>
<path d="M662.0,688.0 L697.0,705.0" fill="none" stroke="#222" stroke-width="2" />
<path d="M692.0,708.0 L703.0,710.0 L706.0,713.0 L694.0,713.0 Z" fill="#888" stroke="#222" stroke-width="1.2" />
<path d="M629.5,685.5 L636,683 L638,684.5 L636.5,687 L630,687.5 Z" fill="#111" stroke="#111" stroke-width="1.5"/>
<path d="M667.5,713 L679,709 L681,710.5 L679.5,712 L668.5,715 Z" fill="#111" stroke="#111" stroke-width="1.5"/>
<path d="M75.0,455.0 L82.2,452.0 L133.2,566.0 L126.0,570.0 Z" fill="#3c3c3c" stroke="#222" stroke-width="1.2" />
<line x1="76.3" y1="458.7" x2="83.5" y2="454.1" stroke="#888" stroke-width="0.6"/>
<line x1="77.5" y1="461.6" x2="84.8" y2="456.9" stroke="#888" stroke-width="0.6"/>
<line x1="78.8" y1="464.4" x2="86.0" y2="459.8" stroke="#888" stroke-width="0.6"/>
<line x1="80.1" y1="467.3" x2="87.3" y2="462.6" stroke="#888" stroke-width="0.6"/>
<line x1="81.4" y1="470.2" x2="88.6" y2="465.4" stroke="#888" stroke-width="0.6"/>
<line x1="82.7" y1="473.1" x2="89.8" y2="468.3" stroke="#888" stroke-width="0.6"/>
<line x1="83.9" y1="475.9" x2="91.1" y2="471.1" stroke="#888" stroke-width="0.6"/>
<line x1="85.2" y1="478.8" x2="92.4" y2="474.0" stroke="#888" stroke-width="0.6"/>
<line x1="86.5" y1="481.7" x2="93.7" y2="476.8" stroke="#888" stroke-width="0.6"/>
<line x1="87.8" y1="484.6" x2="95.0" y2="479.7" stroke="#888" stroke-width="0.6"/>
<line x1="89.0" y1="487.4" x2="96.2" y2="482.6" stroke="#888" stroke-width="0.6"/>
<line x1="90.3" y1="490.3" x2="97.5" y2="485.4" stroke="#888" stroke-width="0.6"/>
<line x1="91.6" y1="493.2" x2="98.8" y2="488.2" stroke="#888" stroke-width="0.6"/>
<line x1="92.8" y1="496.1" x2="100.0" y2="491.1" stroke="#888" stroke-width="0.6"/>
<line x1="94.1" y1="498.9" x2="101.3" y2="493.9" stroke="#888" stroke-width="0.6"/>
<line x1="95.4" y1="501.8" x2="102.6" y2="496.8" stroke="#888" stroke-width="0.6"/>
<line x1="96.7" y1="504.7" x2="103.9" y2="499.6" stroke="#888" stroke-width="0.6"/>
<line x1="98.0" y1="507.6" x2="105.2" y2="502.5" stroke="#888" stroke-width="0.6"/>
<line x1="99.2" y1="510.4" x2="106.4" y2="505.3" stroke="#888" stroke-width="0.6"/>
<line x1="100.5" y1="513.3" x2="107.7" y2="508.2" stroke="#888" stroke-width="0.6"/>
<line x1="101.8" y1="516.2" x2="109.0" y2="511.1" stroke="#888" stroke-width="0.6"/>
<line x1="103.0" y1="519.0" x2="110.2" y2="513.9" stroke="#888" stroke-width="0.6"/>
<line x1="104.3" y1="521.9" x2="111.5" y2="516.8" stroke="#888" stroke-width="0.6"/>
<line x1="105.6" y1="524.8" x2="112.8" y2="519.6" stroke="#888" stroke-width="0.6"/>
<line x1="106.9" y1="527.7" x2="114.1" y2="522.5" stroke="#888" stroke-width="0.6"/>
<line x1="108.2" y1="530.5" x2="115.3" y2="525.3" stroke="#888" stroke-width="0.6"/>
<line x1="109.4" y1="533.4" x2="116.6" y2="528.2" stroke="#888" stroke-width="0.6"/>
<line x1="110.7" y1="536.3" x2="117.9" y2="531.0" stroke="#888" stroke-width="0.6"/>
<line x1="112.0" y1="539.2" x2="119.2" y2="533.9" stroke="#888" stroke-width="0.6"/>
<line x1="113.2" y1="542.0" x2="120.4" y2="536.7" stroke="#888" stroke-width="0.6"/>
<line x1="114.5" y1="544.9" x2="121.7" y2="539.6" stroke="#888" stroke-width="0.6"/>
<line x1="115.8" y1="547.8" x2="123.0" y2="542.4" stroke="#888" stroke-width="0.6"/>
<line x1="117.1" y1="550.7" x2="124.3" y2="545.2" stroke="#888" stroke-width="0.6"/>
<line x1="118.3" y1="553.5" x2="125.5" y2="548.1" stroke="#888" stroke-width="0.6"/>
<line x1="119.6" y1="556.4" x2="126.8" y2="551.0" stroke="#888" stroke-width="0.6"/>
<line x1="120.9" y1="559.3" x2="128.1" y2="553.8" stroke="#888" stroke-width="0.6"/>
<line x1="122.2" y1="562.2" x2="129.4" y2="556.7" stroke="#888" stroke-width="0.6"/>
<line x1="123.4" y1="565.0" x2="130.6" y2="559.5" stroke="#888" stroke-width="0.6"/>
<line x1="124.7" y1="567.9" x2="131.9" y2="562.4" stroke="#888" stroke-width="0.6"/>
<circle cx="97.8" cy="427.6" r="2.2" fill="#fff" stroke="#222" stroke-width="1"/>
<path d="M98.8,429.5 L105.6,444.4" fill="none" stroke="#222" stroke-width="1.3" />
<path d="M104.4,445.0 L108.0,444.4 L153.6,547.0 L151.2,547.6 Z" fill="none" stroke="#222" stroke-width="0.9" />
<path d="M152.4,547.5 L158.4,562.0" fill="none" stroke="#222" stroke-width="1.3" />
<circle cx="158.6" cy="562.5" r="1.8" fill="#fff" stroke="#222" stroke-width="1"/>
<path d="M124.5,410.0 L134.5,431.0" fill="none" stroke="#222" stroke-width="2.2" />
<path d="M129.5,407.0 L137.5,425.0" fill="none" stroke="#222" stroke-width="2.2" />
<path d="M124.5,410.0 L136.8,434.8 L138.5,424.0" fill="none" stroke="#222" stroke-width="0.9" />
<path d="M136.8,434.8 L175.2,528.4" fill="none" stroke="#222" stroke-width="1.6" />
<path d="M175.2,528.4 L174.5,532.0 L180.5,549.0" fill="none" stroke="#444" stroke-width="1.5" />
<path d="M175.8,528.4 L178.8,532.0 L185.3,546.0" fill="none" stroke="#444" stroke-width="1.5" />
<rect x="-1.7" y="-4" width="3.4" height="8" rx="1.7" transform="translate(182,552.8) rotate(-22)" fill="#fff" stroke="#222" stroke-width="1"/>
<rect x="-1.7" y="-4" width="3.4" height="8" rx="1.7" transform="translate(186.2,549.5) rotate(-22)" fill="#fff" stroke="#222" stroke-width="1"/>
<circle cx="181.2" cy="448" r="2.8" fill="#999" stroke="#222" stroke-width="1.3"/>
<path d="M223.3,385.5 L214.8,387.1 L194.5,397.7 L180.7,409.5 L178.5,415.9 L182.8,422.3 L199.9,425.5 L207.3,427.6 L214.8,429.2 L225.5,425.5 L235.1,418.0 L236.1,411.6 L232.9,410.5 L230.5,416.0 L222.0,422.0 L212.0,425.0 L205.0,423.0 L186.0,419.0 L183.0,414.0 L186.0,408.0 L198.0,399.0 L217.0,390.0 L224.0,389.0 Z" fill="none" stroke="#222" stroke-width="1.1" />
<path d="M223.3,385.5 L226.5,387.0 L226.0,390.0 L223.0,391.0 L230.8,412.7" fill="none" stroke="#222" stroke-width="1.0" />
<circle cx="209" cy="424" r="2" fill="#fff" stroke="#222" stroke-width="1"/>
<path d="M206.8,427.6 L238.3,501.2" fill="none" stroke="#222" stroke-width="1.1" />
<path d="M224.0,397.0 L260.7,490.5" fill="none" stroke="#222" stroke-width="1.1" />
<path d="M228.0,504.0 L262.0,489.0 L268.0,491.0 L269.0,494.0 L235.0,510.0 L229.0,509.0 Z" fill="none" stroke="#222" stroke-width="1.1" />
<path d="M240.4,506.5 L270.3,494.8 L271.3,508.7 L244.7,518.3 Z" fill="#ddd" stroke="#222" stroke-width="1.1" />
<line x1="241.1" y1="508.5" x2="270.5" y2="497.1" stroke="#333" stroke-width="0.9"/>
<line x1="241.8" y1="510.4" x2="270.6" y2="499.4" stroke="#333" stroke-width="0.9"/>
<line x1="242.6" y1="512.4" x2="270.8" y2="501.8" stroke="#333" stroke-width="0.9"/>
<line x1="243.3" y1="514.4" x2="271.0" y2="504.1" stroke="#333" stroke-width="0.9"/>
<line x1="244.0" y1="516.3" x2="271.1" y2="506.4" stroke="#333" stroke-width="0.9"/>
<line x1="226.5" y1="463.9" x2="237.5" y2="460.4" stroke="#111" stroke-width="1.7"/>
<line x1="228.1" y1="467.5" x2="239.1" y2="464.0" stroke="#111" stroke-width="1.7"/>
<line x1="229.6" y1="471.1" x2="240.6" y2="467.6" stroke="#111" stroke-width="1.7"/>
<line x1="231.2" y1="474.7" x2="242.2" y2="471.2" stroke="#111" stroke-width="1.7"/>
<line x1="232.7" y1="478.3" x2="243.7" y2="474.8" stroke="#111" stroke-width="1.7"/>
<line x1="234.2" y1="481.9" x2="245.2" y2="478.4" stroke="#111" stroke-width="1.7"/>
<line x1="235.8" y1="485.5" x2="246.8" y2="482.0" stroke="#111" stroke-width="1.7"/>
<line x1="237.3" y1="489.1" x2="248.3" y2="485.6" stroke="#111" stroke-width="1.7"/>
<line x1="238.9" y1="492.7" x2="249.9" y2="489.2" stroke="#111" stroke-width="1.7"/>
<path d="M204.1,451.0 L214.3,446.3 L215.9,453.2 L205.0,455.0 Z" fill="none" stroke="#222" stroke-width="1.0" />
<path d="M233.0,392.0 L240.4,389.0" fill="none" stroke="#222" stroke-width="3.2" />
<path d="M246.0,381.0 L251.0,379.0 L252.5,392.0 L248.0,395.0 L246.0,388.0 Z" fill="none" stroke="#222" stroke-width="1.0" />
<path d="M247.0,383.0 L251.0,391.0" fill="none" stroke="#222" stroke-width="1.5" />
<path d="M261.9,364.3 L267.8,360.1 L279.0,384.6 L272.1,388.9 Z" fill="#555" stroke="#222" stroke-width="1.2" />
<path d="M264.0,365.0 L274.0,386.0" fill="none" stroke="#ccc" stroke-width="0.6" />
<path d="M289.1,352.6 L295.5,348.9 L305.7,361.1 L304.6,371.8 L298.7,374.5 L290.2,363.3 Z" fill="none" stroke="#222" stroke-width="1.1" />
<path d="M292.0,355.0 L300.0,372.0" fill="none" stroke="#222" stroke-width="1.0" />
<path d="M295.5,352.0 L304.0,361.0 L300.0,366.0" fill="none" stroke="#222" stroke-width="1.0" />
<circle cx="344.6" cy="377.1" r="3.3" fill="none" stroke="#111" stroke-width="1.5"/>
<path d="M343.0,380.0 L344.0,385.0" fill="none" stroke="#222" stroke-width="1.3" />
<path d="M347.0,379.0 L352.0,383.0" fill="none" stroke="#222" stroke-width="1.3" />
<circle cx="352.1" cy="331.8" r="2.8" fill="none" stroke="#111" stroke-width="1.5"/>
<path d="M340.3,335.0 L363.8,329.7" fill="none" stroke="#222" stroke-width="1.2" />
<path d="M371.3,309.9 L376.6,306.7 L410.7,312.6 L410.7,319.0 L404.3,325.4 L378.7,319.5 L380.9,322.7 L376.6,336.1 L370.2,335.0 Z" fill="none" stroke="#222" stroke-width="1.1" />
<path d="M376.6,314.0 L404.3,319.0 L410.7,312.6" fill="none" stroke="#222" stroke-width="0.9" />
<path d="M404.3,319.0 L404.3,325.4" fill="none" stroke="#222" stroke-width="0.9" />
<circle cx="375" cy="312" r="2.5" fill="none" stroke="#222" stroke-width="0.9"/>
<path d="M310.5,383.5 L314.7,381.9 L323.3,388.9 L325.4,394.2 L323.3,400.6 L330.7,404.9 L344.6,417.7 L351.0,426.2 L346.7,431.0 L339.3,418.7 L324.3,404.9 L319.0,405.9 L315.8,401.7 L319.0,397.4 L314.7,391.0 Z" fill="none" stroke="#222" stroke-width="1.1" />
<circle cx="320" cy="402" r="2.2" fill="none" stroke="#222" stroke-width="0.9"/>
<path d="M417.5,308.0 L421.7,302.7 L439.9,290.9 L456.9,282.9 L462.3,283.5 L472.9,310.1 L471.9,313.3 L465.5,318.1 L458.0,318.1 L438.8,319.2 L422.8,316.5 Z" fill="none" stroke="#222" stroke-width="1.2" />
<circle cx="426" cy="309" r="4.3" fill="none" stroke="#222" stroke-width="1.1"/>
<circle cx="426" cy="309" r="1.8" fill="none" stroke="#222" stroke-width="0.8"/>
<circle cx="455.9" cy="290.4" r="2.6" fill="none" stroke="#222" stroke-width="1.1"/>
<circle cx="462.3" cy="310.7" r="2.6" fill="none" stroke="#222" stroke-width="1.3"/>
<circle cx="451" cy="315" r="1.2" fill="none" stroke="#222" stroke-width="0.8"/>
<path d="M438.3,319.7 L476.1,397.6" fill="none" stroke="#222" stroke-width="1.1" />
<path d="M465.5,318.1 L502.8,393.3" fill="none" stroke="#222" stroke-width="1.1" />
<path d="M445.0,328.0 L452.5,325.5 L487.0,398.0 L478.0,401.5 Z" fill="none" stroke="#222" stroke-width="1.0" />
<path d="M452.5,325.0 L466.0,320.0 L501.0,391.0 L487.5,397.0 Z" fill="#8a8a8a" stroke="#222" stroke-width="1.0" />
<line x1="454.8" y1="324.2" x2="489.8" y2="396.0" stroke="#222" stroke-width="0.8"/>
<line x1="457.0" y1="323.3" x2="492.0" y2="395.0" stroke="#222" stroke-width="0.8"/>
<line x1="459.2" y1="322.5" x2="494.2" y2="394.0" stroke="#222" stroke-width="0.8"/>
<line x1="461.5" y1="321.7" x2="496.5" y2="393.0" stroke="#222" stroke-width="0.8"/>
<line x1="463.8" y1="320.8" x2="498.8" y2="392.0" stroke="#222" stroke-width="0.8"/>
<line x1="445" y1="328" x2="452.5" y2="325.5" stroke="#222" stroke-width="1.0"/>
<line x1="455" y1="350" x2="461" y2="346" stroke="#222" stroke-width="1.0"/>
<line x1="464" y1="371" x2="471" y2="367" stroke="#222" stroke-width="1.0"/>
<line x1="473" y1="390" x2="480" y2="387" stroke="#222" stroke-width="1.0"/>
<path d="M466.0,320.0 L468.0,318.0" fill="none" stroke="#222" stroke-width="1.0" />
<path d="M465.5,406.1 L477.2,401.9 L503.9,390.7 L505.5,405.1 L480.4,415.7 Z" fill="#fff" stroke="#222" stroke-width="1.1" />
<path d="M477.2,401.9 L480.4,415.7" fill="none" stroke="#222" stroke-width="1.0" />
<path d="M465.5,406.1 L468.0,409.0 L480.4,415.7" fill="none" stroke="#222" stroke-width="1.0" />
<path d="M439.9,347.5 L448.4,345.3 L449.5,349.6 L440.9,351.2 Z" fill="none" stroke="#222" stroke-width="1.0" />
<path d="M437.5,276.5 L442.5,270.5" fill="none" stroke="#222" stroke-width="3" />
<path d="M455.5,273.0 L461.5,266.0" fill="none" stroke="#222" stroke-width="3" />
<path d="M471.8,287.0 L480.0,276.0" fill="none" stroke="#222" stroke-width="3.6" />
<path d="M476.1,297.3 L490.0,292.0 L492.1,294.1 L478.3,300.0 L479.3,302.7 Z" fill="none" stroke="#222" stroke-width="1.1" />
<path d="M528.5,372.5 L525.5,379.0" fill="none" stroke="#222" stroke-width="4" />
<path d="M521.0,386.0 L553.0,373.2 L555.0,374.0 L558.6,382.4 L547.0,388.8 L529.0,396.0 L525.8,387.2 Z" fill="#fff" stroke="#222" stroke-width="1.1" />
<path d="M529.0,384.8 L553.8,374.0" fill="none" stroke="#222" stroke-width="1.0" />
<path d="M516.6,388.8 L525.8,387.2 L528.6,396.0 L521.0,399.2 Z" fill="#fff" stroke="#222" stroke-width="1.1" />
<circle cx="522.6" cy="393.2" r="1.8" fill="none" stroke="#222" stroke-width="1"/>
<circle cx="516.2" cy="407.5" r="2.8" fill="#777" stroke="#222" stroke-width="1.3"/>
<path d="M1070.0,440.0 L1399.0,316.0" fill="none" stroke="#333" stroke-width="1.0" />
<path d="M1126,407 A6 11.5 -15 1 1 1127,424" fill="none" stroke="#111" stroke-width="2"/>
<path d="M1144.0,405.4 L1144.1,404.3 L1144.2,403.3 L1144.4,402.4 L1144.7,401.6 L1145.1,401.0 L1145.5,400.4 L1146.0,400.1 L1146.5,399.8 L1173.1,390.7 L1173.6,390.6 L1174.2,390.7 L1174.8,391.0 L1175.4,391.3 L1176.0,391.8 L1176.6,392.5 L1177.2,393.2 L1177.7,394.1 L1178.3,395.1 L1178.7,396.1 L1179.1,397.2 L1179.5,398.3 L1179.7,399.5 L1179.9,400.6 L1180.0,401.7 L1180.1,402.8 L1180.0,403.8 L1179.9,404.8 L1179.7,405.6 L1179.4,406.4 L1179.1,407.0 L1178.7,407.5 L1178.2,407.9 L1177.7,408.1 L1151.5,418.2 L1150.9,418.2 L1150.2,418.2 L1149.6,417.9 L1149.0,417.5 L1148.3,417.0 L1147.7,416.3 L1147.0,415.5 L1146.5,414.6 L1145.9,413.6 L1145.4,412.5 L1145.0,411.4 L1144.7,410.2 L1144.4,409.0 L1144.2,407.8 L1144.0,406.6 Z" fill="#fff" stroke="#222" stroke-width="1.1"/><ellipse cx="1175.4" cy="399.4" rx="4.2" ry="9" transform="rotate(-15 1175.4 399.4)" fill="#fff" stroke="#222" stroke-width="1.6"/>
<path d="M1151.5,399.5 A4.5 9.5 -15 0 1 1154,418" fill="none" stroke="#222" stroke-width="1.3"/>
<ellipse cx="1175.4" cy="399.4" rx="2.6" ry="7" transform="rotate(-15 1175.4 399.4)" fill="none" stroke="#222" stroke-width="0.9" />
<path d="M1160.0,404.0 L1167.0,401.5" fill="none" stroke="#222" stroke-width="0.8" />
<path d="M1184.2,390.9 L1184.3,389.7 L1184.4,388.7 L1184.6,387.7 L1184.9,386.9 L1185.2,386.2 L1185.7,385.7 L1186.2,385.3 L1186.7,385.0 L1210.9,375.4 L1211.5,375.4 L1212.1,375.5 L1212.8,375.7 L1213.4,376.2 L1214.1,376.7 L1214.7,377.4 L1215.4,378.3 L1216.0,379.3 L1216.5,380.3 L1217.0,381.5 L1217.5,382.7 L1217.8,383.9 L1218.1,385.2 L1218.4,386.5 L1218.5,387.7 L1218.6,388.9 L1218.5,390.1 L1218.4,391.1 L1218.2,392.1 L1217.9,392.9 L1217.6,393.6 L1217.1,394.1 L1216.6,394.5 L1216.1,394.8 L1191.9,404.4 L1191.3,404.4 L1190.7,404.3 L1190.0,404.1 L1189.4,403.6 L1188.7,403.1 L1188.1,402.4 L1187.4,401.5 L1186.8,400.5 L1186.3,399.5 L1185.8,398.3 L1185.3,397.1 L1185.0,395.9 L1184.7,394.6 L1184.4,393.3 L1184.3,392.1 Z" fill="#fff" stroke="#222" stroke-width="1.1"/><ellipse cx="1213.5" cy="385.1" rx="4.5" ry="10" transform="rotate(-15 1213.5 385.1)" fill="#fff" stroke="#222" stroke-width="1.4"/>
<path d="M1185.8,384.5 L1211.0,375.0" fill="none" stroke="#222" stroke-width="1.6" />
<path d="M1190.5,398.5 L1216.0,389.0" fill="none" stroke="#222" stroke-width="0.9" />
<path d="M1191.5,402.0 L1217.0,392.0" fill="none" stroke="#222" stroke-width="0.9" />
<ellipse cx="1213.5" cy="385.1" rx="3.3" ry="8.5" transform="rotate(-15 1213.5 385.1)" fill="none" stroke="#222" stroke-width="0.9" />
<path d="M1192.0,392.5 L1203.0,388.5" fill="none" stroke="#222" stroke-width="0.8" />
<path d="M1224.0,364.0 L1244.8,356.0 L1264.0,331.2" fill="none" stroke="#222" stroke-width="1.0" />
<path d="M1234.4,391.6 L1254.4,384.0 L1280.0,388.8" fill="none" stroke="#222" stroke-width="1.0" />
<path d="M1224,364 Q1221,375 1226,383 Q1230,389 1234.4,391.6" fill="none" stroke="#222" stroke-width="1"/>
<path d="M1244.8,356 Q1243,368 1247,377 Q1250,382 1254.4,384" fill="none" stroke="#222" stroke-width="1"/>
<path d="M1268.0,334.0 L1269.5,321.0 L1274.0,317.5 L1279.0,324.0 L1277.0,333.0 Z" fill="#fff" stroke="#222" stroke-width="1.2" />
<path d="M1289.0,389.0 L1302.0,383.0 L1301.0,393.0 L1295.0,396.5 Z" fill="#fff" stroke="#222" stroke-width="1.2" />
<ellipse cx="1283" cy="357.5" rx="19" ry="31" transform="rotate(-22 1283 357.5)" fill="#fff" stroke="#222" stroke-width="1.4" />
<ellipse cx="1279" cy="356" rx="17" ry="29" transform="rotate(-22 1279 356)" fill="none" stroke="#222" stroke-width="0.9" />
<ellipse cx="1289.5" cy="360" rx="12" ry="24" transform="rotate(-22 1289.5 360)" fill="none" stroke="#222" stroke-width="1.0" />
<path d="M1276,348 Q1281,360 1284,370 Q1285,376 1283,378 Q1278,366 1276,348 Z" fill="#333" stroke="#222" stroke-width="2"/>
<path d="M1262.0,356.0 L1268.0,354.0 L1270.0,362.0 L1264.0,364.0 Z" fill="none" stroke="#222" stroke-width="1.0" />
<path d="M1284.8,356.8 L1320.0,344.0" fill="none" stroke="#222" stroke-width="0.9" />
<line x1="1228" y1="339.5" x2="1235.5" y2="336" stroke="#111" stroke-width="2.8"/>
<circle cx="1235.0" cy="336.3" r="2.3" fill="#111"/>
<line x1="1209.5" y1="365.5" x2="1217" y2="361" stroke="#111" stroke-width="2.8"/>
<circle cx="1216.5" cy="361.3" r="2.3" fill="#111"/>
<line x1="1229.5" y1="405.5" x2="1237" y2="402" stroke="#111" stroke-width="2.8"/>
<circle cx="1236.5" cy="402.3" r="2.3" fill="#111"/>
<line x1="1236" y1="419.5" x2="1243" y2="416" stroke="#111" stroke-width="2.8"/>
<circle cx="1242.5" cy="416.3" r="2.3" fill="#111"/>
<ellipse cx="1258.4" cy="325.6" rx="2.2" ry="3" transform="rotate(-20 1258.4 325.6)" fill="none" stroke="#222" stroke-width="1.3" />
<ellipse cx="1246" cy="330" rx="1.8" ry="2.3" transform="rotate(-20 1246 330)" fill="#222" stroke="#222" stroke-width="1.4" />
<ellipse cx="1240.4" cy="350.4" rx="2.2" ry="3" transform="rotate(-20 1240.4 350.4)" fill="none" stroke="#222" stroke-width="1.3" />
<ellipse cx="1228.4" cy="355.2" rx="1.8" ry="2.3" transform="rotate(-20 1228.4 355.2)" fill="#222" stroke="#222" stroke-width="1.4" />
<ellipse cx="1260.4" cy="391.2" rx="2.2" ry="3" transform="rotate(-20 1260.4 391.2)" fill="none" stroke="#222" stroke-width="1.3" />
<ellipse cx="1248.4" cy="396.4" rx="1.8" ry="2.3" transform="rotate(-20 1248.4 396.4)" fill="#222" stroke="#222" stroke-width="1.4" />
<ellipse cx="1279.6" cy="401.2" rx="2.2" ry="3" transform="rotate(-20 1279.6 401.2)" fill="none" stroke="#222" stroke-width="1.3" />
<ellipse cx="1260.4" cy="408.4" rx="2.2" ry="3" transform="rotate(-20 1260.4 408.4)" fill="none" stroke="#222" stroke-width="1.3" />
<path d="M1310,345 A3 4.5 -15 1 1 1310,352" fill="none" stroke="#111" stroke-width="1.6"/>
<path d="M1330.3,334.1 L1330.3,332.8 L1330.5,331.6 L1330.7,330.5 L1331.1,329.5 L1331.5,328.6 L1332.1,327.9 L1332.7,327.4 L1333.4,327.1 L1340.4,324.6 L1341.2,324.4 L1342.0,324.5 L1342.9,324.7 L1343.8,325.1 L1344.7,325.7 L1345.5,326.5 L1346.4,327.4 L1347.2,328.4 L1347.9,329.6 L1348.6,330.9 L1349.2,332.2 L1349.7,333.6 L1350.1,335.1 L1350.4,336.5 L1350.6,338.0 L1350.7,339.4 L1350.7,340.7 L1350.5,341.9 L1350.3,343.0 L1349.9,344.0 L1349.5,344.9 L1348.9,345.6 L1348.3,346.1 L1347.6,346.4 L1340.6,348.9 L1339.8,349.1 L1339.0,349.0 L1338.1,348.8 L1337.2,348.4 L1336.3,347.8 L1335.5,347.0 L1334.6,346.1 L1333.8,345.1 L1333.1,343.9 L1332.4,342.6 L1331.8,341.3 L1331.3,339.9 L1330.9,338.4 L1330.6,337.0 L1330.4,335.5 Z" fill="#fff" stroke="#222" stroke-width="1.1"/><ellipse cx="1344" cy="335.5" rx="6" ry="11.5" transform="rotate(-18 1344 335.5)" fill="#fff" stroke="#222" stroke-width="1.2"/>
<ellipse cx="1344" cy="335.5" rx="3.8" ry="8" transform="rotate(-18 1344 335.5)" fill="none" stroke="#222" stroke-width="1.6" />
<ellipse cx="1344" cy="335.5" rx="1.8" ry="3.8" transform="rotate(-18 1344 335.5)" fill="none" stroke="#222" stroke-width="1.0" />
<path d="M1361.5,323.5 A6.5 13.5 -18 1 1 1364.5,334" fill="none" stroke="#111" stroke-width="2"/>
<path d="M1398.2,313.5 L1398.3,313.0 L1398.3,312.5 L1398.4,312.1 L1398.6,311.7 L1398.8,311.3 L1399.0,311.1 L1399.3,310.9 L1399.6,310.7 L1413.6,305.2 L1413.9,305.2 L1414.3,305.2 L1414.6,305.3 L1415.0,305.4 L1415.3,305.6 L1415.7,305.9 L1416.0,306.3 L1416.4,306.7 L1416.7,307.1 L1416.9,307.6 L1417.2,308.2 L1417.4,308.7 L1417.5,309.3 L1417.7,309.9 L1417.7,310.4 L1417.8,311.0 L1417.7,311.5 L1417.7,312.0 L1417.6,312.4 L1417.4,312.8 L1417.2,313.2 L1417.0,313.4 L1416.7,313.6 L1416.4,313.8 L1402.4,319.3 L1402.1,319.3 L1401.7,319.3 L1401.4,319.2 L1401.0,319.1 L1400.7,318.9 L1400.3,318.6 L1400.0,318.2 L1399.6,317.8 L1399.3,317.4 L1399.1,316.9 L1398.8,316.3 L1398.6,315.8 L1398.5,315.2 L1398.3,314.6 L1398.3,314.1 Z" fill="#fff" stroke="#222" stroke-width="1.1"/><ellipse cx="1415" cy="309.5" rx="2.5" ry="4.5" transform="rotate(-18 1415 309.5)" fill="#fff" stroke="#222" stroke-width="1.1"/>
<ellipse cx="1415.5" cy="309.5" rx="3" ry="5.3" transform="rotate(-18 1415.5 309.5)" fill="#fff" stroke="#222" stroke-width="1.0" />
<path d="M1414.3,292.2 L1414.5,289.1 L1415.0,286.3 L1415.7,283.8 L1416.7,281.7 L1417.9,280.0 L1419.3,278.7 L1420.9,277.9 L1434.9,272.9 L1436.6,272.6 L1438.5,272.8 L1440.5,273.5 L1442.5,274.6 L1444.6,276.2 L1446.6,278.2 L1448.6,280.6 L1450.6,283.4 L1452.4,286.4 L1454.0,289.7 L1455.5,293.2 L1456.8,296.8 L1457.9,300.5 L1458.8,304.2 L1459.4,307.9 L1459.7,311.4 L1459.7,314.8 L1459.5,317.9 L1459.0,320.7 L1458.3,323.2 L1457.3,325.3 L1456.1,327.0 L1454.7,328.3 L1453.1,329.1 L1439.1,334.1 L1437.4,334.4 L1435.5,334.2 L1433.5,333.5 L1431.5,332.4 L1429.4,330.8 L1427.4,328.8 L1425.4,326.4 L1423.4,323.6 L1421.6,320.6 L1420.0,317.3 L1418.5,313.8 L1417.2,310.2 L1416.1,306.5 L1415.2,302.8 L1414.6,299.1 L1414.3,295.6 Z" fill="#fff" stroke="#222" stroke-width="1.2"/><ellipse cx="1444" cy="301" rx="13.5" ry="29.5" transform="rotate(-18 1444 301)" fill="#fff" stroke="#222" stroke-width="1.5"/>
<ellipse cx="1438" cy="301" rx="7.5" ry="20" transform="rotate(-18 1438 301)" fill="none" stroke="#222" stroke-width="1.0" />
<ellipse cx="1441" cy="301.5" rx="9.5" ry="24" transform="rotate(-18 1441 301.5)" fill="none" stroke="#222" stroke-width="0.8" />
<path d="M540.0,632.5 L747.0,553.0 L748.1,558.6 L755.0,565.4 L753.9,568.8 L546.0,647.5" fill="none" stroke="#222" stroke-width="1.1" />
<path d="M540,632.5 Q537,634 538,640 L540,645 Q542,649 546,647.5" fill="none" stroke="#222" stroke-width="1.1"/>
<path d="M954.7,473.7 L756.0,547.3 L753.9,553.0 L759.5,559.8 L761.8,565.4 L960.3,490.5" fill="none" stroke="#222" stroke-width="1.1" />
<ellipse cx="957.8" cy="482.1" rx="3.6" ry="8.6" transform="rotate(-20 957.8 482.1)" fill="#fff" stroke="#222" stroke-width="1.1" />
<line x1="962" y1="480" x2="994.8" y2="469" stroke="#222" stroke-width="0.9"/>
<line x1="364" y1="708" x2="429.5" y2="683.5" stroke="#222" stroke-width="1.0"/>
<line x1="320" y1="726" x2="331" y2="722" stroke="#222" stroke-width="1.0"/>
<line x1="449" y1="676.3" x2="496.5" y2="656.7" stroke="#222" stroke-width="1.0"/>
<line x1="497.5" y1="657.5" x2="505.5" y2="654.2" stroke="#222" stroke-width="4.6"/>
<path d="M505.5,653.8 L540.0,639.8" fill="none" stroke="#222" stroke-width="1.0" />
<path d="M506.5,657.2 L541.0,643.2" fill="none" stroke="#222" stroke-width="1.0" />
<path d="M429.3,676.3 L442.4,670.7 L446.1,670.7 L448.9,674.5 L450.8,681.9 L449.9,684.7 L436.8,690.3 L433.1,688.5 L430.3,681.0 Z" fill="none" stroke="#222" stroke-width="1.1" />
<path d="M442.4,670.7 L445.0,684.0 L449.9,684.7" fill="none" stroke="#222" stroke-width="0.9" />
<path d="M431.0,681.5 L444.5,676.0" fill="none" stroke="#222" stroke-width="1.3" />
<path d="M432.0,685.0 L446.0,679.5" fill="none" stroke="#222" stroke-width="0.8" />
<line x1="614.4" y1="545" x2="701.7" y2="504.2" stroke="#111" stroke-width="1.6"/>
<circle cx="614.8" cy="544.8" r="1.8" fill="#111"/>
<path d="M756,232 L789,304 Q812,350 818,390 Q819,415 815.7,443.3" fill="none" stroke="#222" stroke-width="1.1"/>
<path d="M768,227 L818,333 Q832,365 833,395 Q832,420 829.7,443.3" fill="none" stroke="#222" stroke-width="1.1"/>
<ellipse cx="762" cy="229.5" rx="6.5" ry="2.5" transform="rotate(-25 762 229.5)" fill="#fff" stroke="#222" stroke-width="1.1" />
<ellipse cx="822.5" cy="444.7" rx="7" ry="5" transform="rotate(-5 822.5 444.7)" fill="#fff" stroke="#222" stroke-width="1.5" />
<path d="M776.3,436.7 L779.0,434.0 L787.0,428.0 L797.7,426.3 L801.7,428.0 L805.0,433.3 L801.0,437.3 L797.7,435.3 L794.3,434.0 L787.0,435.3 L783.0,439.3 L782.3,444.0 L777.0,439.3 Z" fill="#fff" stroke="#222" stroke-width="1.2" />
<path d="M774.3,463.3 L776.3,461.3 L783.0,457.3 L792.3,455.3 L798.3,454.0 L802.3,456.7 L802.7,462.0 L798.3,465.3 L795.0,466.7 L789.7,466.0 L785.0,467.3 L783.0,472.0 L779.7,472.7 L774.3,466.7 Z" fill="#fff" stroke="#222" stroke-width="1.2" />
<line x1="782.3" y1="444" x2="781" y2="457.3" stroke="#222" stroke-width="1.4"/>
<line x1="798.3" y1="436.7" x2="797.7" y2="454" stroke="#222" stroke-width="1.2"/>
<line x1="801" y1="437.3" x2="800.3" y2="453.3" stroke="#222" stroke-width="1.2"/>
<path d="M794.3,429.0 L797.0,434.0 L801.7,428.0" fill="none" stroke="#222" stroke-width="0.9" />
<path d="M792.0,456.0 L795.0,465.0 L802.3,456.7" fill="none" stroke="#222" stroke-width="0.9" />
<circle cx="779.5" cy="436.5" r="1.5" fill="none" stroke="#222" stroke-width="0.8"/>
<circle cx="777" cy="464" r="1.5" fill="none" stroke="#222" stroke-width="0.8"/>
<line x1="769.5" y1="421" x2="774.9" y2="427.8" stroke="#111" stroke-width="3.4"/><circle cx="769.5" cy="421" r="2.7" fill="#111"/><circle cx="769.5" cy="421" r="0.9" fill="#999"/>
<line x1="793.3" y1="414" x2="797.1" y2="420.4" stroke="#111" stroke-width="3.4"/><circle cx="793.3" cy="414" r="2.7" fill="#111"/><circle cx="793.3" cy="414" r="0.9" fill="#999"/>
<line x1="771" y1="450" x2="775.8" y2="456.4" stroke="#111" stroke-width="3.4"/><circle cx="771" cy="450" r="2.7" fill="#111"/><circle cx="771" cy="450" r="0.9" fill="#999"/>
<line x1="760.5" y1="460" x2="765.0" y2="466.4" stroke="#111" stroke-width="3.4"/><circle cx="760.5" cy="460" r="2.7" fill="#111"/><circle cx="760.5" cy="460" r="0.9" fill="#999"/>
<path d="M815.0,463.3 L819.0,460.0 L822.3,459.3 L825.7,461.3 L832.3,460.7 L834.3,455.3 L838.3,453.3 L841.7,456.0 L844.3,460.7 L843.0,464.7 L840.3,468.7 L847.0,470.0 L849.0,473.3 L846.3,474.0 L845.0,471.3 L841.7,473.3 L843.7,483.3 L847.7,487.3 L847.0,490.0 L841.7,492.7 L838.3,495.3 L833.7,496.7 L828.3,496.0 L820.3,498.7 L816.3,498.7 L813.0,494.7 L813.7,490.0 L817.0,489.3 L818.3,466.7 L815.7,466.0 Z" fill="#fff" stroke="#222" stroke-width="1.1" />
<line x1="821.7" y1="460.7" x2="819.7" y2="490" stroke="#222" stroke-width="1.0"/>
<line x1="833.7" y1="456.7" x2="831.7" y2="486.7" stroke="#222" stroke-width="1.0"/>
<line x1="836.5" y1="456" x2="834.5" y2="485" stroke="#222" stroke-width="0.9"/>
<path d="M819.7,490 Q824,496 830,494 Q833,492 833.5,487" fill="none" stroke="#222" stroke-width="0.9"/>
<path d="M839,476 Q842,473 843,482 Q845,490 843,491" fill="none" stroke="#222" stroke-width="0.9"/>
<circle cx="816" cy="492" r="1.8" fill="none" stroke="#222" stroke-width="0.9"/>
<circle cx="838" cy="456" r="1.8" fill="none" stroke="#222" stroke-width="0.9"/>
<circle cx="832" cy="487" r="1.5" fill="none" stroke="#222" stroke-width="0.9"/>
<path d="M987.4,440.9 L994.7,434.6 L1003.8,433.5 L1011.7,437.5 L1014.0,441.4 L1019.1,443.7 L1023.1,446.5 L1027.6,456.7 L1027.0,464.7 L1024.2,466.4 L1016.8,468.6 L1013.4,466.4 L1011.2,468.1 L1010.6,472.0 L1003.8,474.9 L998.7,473.7 L994.7,467.5 L990.2,454.5 L986.8,446.5 Z" fill="#fff" stroke="#222" stroke-width="1.2" />
<circle cx="998.1" cy="442" r="3.3" fill="none" stroke="#222" stroke-width="1"/>
<ellipse cx="1005.5" cy="461.3" rx="4" ry="10" transform="rotate(-22 1005.5 461.3)" fill="none" stroke="#222" stroke-width="1.6" />
<ellipse cx="1021.9" cy="455.6" rx="4.5" ry="11" transform="rotate(-22 1021.9 455.6)" fill="none" stroke="#222" stroke-width="1.3" />
<line x1="990.2" y1="451" x2="1011.7" y2="443" stroke="#222" stroke-width="1.0"/>
<line x1="993" y1="459.5" x2="1014.5" y2="451" stroke="#222" stroke-width="1.0"/>
<line x1="995" y1="468" x2="1023" y2="457.8" stroke="#222" stroke-width="1.0"/>
<path d="M994,436.5 Q1003,433 1011,439 Q1013,445 1014,451" fill="none" stroke="#222" stroke-width="0.9"/>
<path d="M1014.0,476.0 L1022.5,473.7 L1028.2,477.1 L1034.4,486.2 L1034.4,499.8 L1029.9,503.2 L1025.3,501.5 L1019.7,495.3 L1014.6,486.2 L1013.4,479.4 Z" fill="#fff" stroke="#222" stroke-width="1.1" />
<ellipse cx="1025.3" cy="483.5" rx="3.6" ry="9.5" transform="rotate(-22 1025.3 483.5)" fill="none" stroke="#222" stroke-width="1.5" />
<ellipse cx="1029.5" cy="499.5" rx="2.5" ry="2" transform="rotate(-22 1029.5 499.5)" fill="none" stroke="#222" stroke-width="1.2" />
<line x1="1023" y1="495" x2="1031" y2="491" stroke="#222" stroke-width="0.9"/>
<circle cx="1034.4" cy="476.6" r="2.2" fill="#777" stroke="#222" stroke-width="1.1"/>
<line x1="1027.5" y1="515.5" x2="1030.5" y2="523.6" stroke="#111" stroke-width="3.8"/><circle cx="1027.5" cy="515.5" r="3.0" fill="#111"/><circle cx="1027.5" cy="515.5" r="0.9" fill="#999"/>
<path d="M866.6,568.8 L876.6,564.0 L879.8,560.4 L883.0,560.8 L891.8,559.2 L895.0,563.2 L897.0,571.6 L896.6,578.0 L894.2,579.6 L891.0,576.0 L883.8,578.0 L887.0,584.0 L886.6,588.0 L881.0,590.8 L875.8,585.2 L869.0,588.4 L865.4,585.2 L867.0,581.6 L870.6,579.6 L868.2,570.4 Z" fill="#fff" stroke="#222" stroke-width="1.2" />
<line x1="868.2" y1="570.4" x2="891.8" y2="561.5" stroke="#222" stroke-width="1.0"/>
<line x1="870.6" y1="579.6" x2="891" y2="574.5" stroke="#222" stroke-width="1.0"/>
<line x1="875.5" y1="579" x2="880" y2="589" stroke="#222" stroke-width="1.0"/>
<line x1="899" y1="580.8" x2="903.1" y2="584.8" stroke="#111" stroke-width="3.6"/><circle cx="899" cy="580.8" r="2.9" fill="#111"/><circle cx="899" cy="580.8" r="0.9" fill="#999"/>
<line x1="892" y1="596.5" x2="896.2" y2="600.3" stroke="#111" stroke-width="3.6"/><circle cx="892" cy="596.5" r="2.9" fill="#111"/><circle cx="892" cy="596.5" r="0.9" fill="#999"/>
<ellipse cx="774.8" cy="728" rx="5.5" ry="6.7" transform="rotate(-10 774.8 728)" fill="#fff" stroke="#222" stroke-width="1.2" />
<path d="M779.6,722.4 L834,747.2 Q836,745 836.5,740 L841.2,688 Q843,681 848,680.8 Q853,681 854.8,686.5 L850.5,742 Q849,756 840,760 Q834,763 826,760 L776.4,734.4" fill="none" stroke="#222" stroke-width="1.1"/>
<line x1="353.8" y1="744" x2="355.4" y2="754" stroke="#111" stroke-width="3.6"/>
<circle cx="353.8" cy="743" r="3" fill="#111"/>
<circle cx="353.8" cy="743" r="1.1" fill="#888"/>
<line x1="375.4" y1="743.6" x2="377" y2="753.6" stroke="#111" stroke-width="3.6"/>
<circle cx="375.4" cy="742.6" r="3" fill="#111"/>
<circle cx="375.4" cy="742.6" r="1.1" fill="#888"/>
<ellipse cx="358.6" cy="766.8" rx="3" ry="2.2" transform="rotate(-10 358.6 766.8)" fill="none" stroke="#222" stroke-width="1.6" />
<ellipse cx="380.6" cy="766.4" rx="3" ry="2.2" transform="rotate(-10 380.6 766.4)" fill="none" stroke="#222" stroke-width="1.6" />
<ellipse cx="361.8" cy="785.2" rx="3.6" ry="2.6" transform="rotate(-10 361.8 785.2)" fill="none" stroke="#222" stroke-width="1.4" />
<ellipse cx="361.8" cy="785.2" rx="1.5" ry="1" transform="rotate(-10 361.8 785.2)" fill="none" stroke="#222" stroke-width="0.8" />
<ellipse cx="383.8" cy="784.4" rx="3.6" ry="2.6" transform="rotate(-10 383.8 784.4)" fill="none" stroke="#222" stroke-width="1.4" />
<ellipse cx="383.8" cy="784.4" rx="1.5" ry="1" transform="rotate(-10 383.8 784.4)" fill="none" stroke="#222" stroke-width="0.8" />
<path d="M370.2,803.6 L389.4,796.4 L391.4,807.6 L389.4,808.4 L386.6,802.8 L370.6,808.0 Z" fill="#fff" stroke="#222" stroke-width="1.1" />
<path d="M366.6,810.8 L369.0,808.8 L386.6,802.8 L388.2,809.2 L389.8,817.2 L393.8,825.2 L395.4,838.8 L377.0,847.2 L374.6,844.4 L373.0,832.4 L368.2,821.2 L366.2,813.2 Z" fill="#fff" stroke="#222" stroke-width="1.1" />
<line x1="373.8" y1="833.2" x2="393.6" y2="826.8" stroke="#222" stroke-width="0.9"/>
<line x1="374.2" y1="835.6" x2="394" y2="829" stroke="#222" stroke-width="0.9"/>
<ellipse cx="384.2" cy="837.2" rx="3" ry="1.8" transform="rotate(-15 384.2 837.2)" fill="none" stroke="#222" stroke-width="0.9" />
<ellipse cx="380" cy="801" rx="2.5" ry="1.3" transform="rotate(-15 380 801)" fill="none" stroke="#222" stroke-width="0.9" />
</g>
<rect x="0" y="1370.8" width="1500" height="1.4" fill="#000"/>
<rect x="31.1" y="1406.1" width="215.5" height="59.8" fill="#807f84"/>
<rect x="46.24" y="1419.2" width="25.44" height="33.76" fill="#fff"/>
<polygon points="57.28,1423.04 68.8,1423.04 68.8,1432.8" fill="#807f84"/>
<polygon points="49.12,1423.84 49.12,1431.68 68.8,1448.64 68.8,1440.8" fill="#807f84"/>
<polygon points="49.12,1439.04 49.12,1449.6 60.96,1449.6" fill="#807f84"/>
<g fill="#fff">
<path d="M100.2,1420.1 H85 Q79.8,1420.1 79.8,1425.4 V1433 Q79.8,1438 87,1440 L91.5,1441.3 Q92.8,1441.8 92.8,1443 V1445 H87.3 V1441.2 H79.8 V1452.1 H95 Q100.3,1452.1 100.3,1446.5 V1438.5 Q100.3,1433.5 93.5,1431.4 L88,1429.9 Q87.3,1429.6 87.3,1428.6 V1427.1 H92.9 V1431.2 H100.2 Z"/>
<path d="M103.8,1420.1 H125.9 V1427.1 H119.3 V1452.1 H110.7 V1427.1 H103.8 Z"/>
<path d="M129.7,1420.1 H149.9 V1427.1 H137.7 V1432.9 H149.9 V1439.9 H137.7 V1445.2 H149.9 V1452.1 H129.7 Z"/>
<path d="M154.8,1420 H162.9 V1432.6 H169.8 V1420 H177.9 V1451.8 H169.8 V1439.8 H162.9 V1451.8 H154.8 Z"/>
<path d="M183,1420 H203.1 V1426.9 H191.1 V1432.9 H203.1 V1439.8 H191.1 V1445.2 H203.1 V1451.8 H183 Z"/>
<path d="M207.9,1420 H225 Q230.1,1420 230.1,1425.5 V1437 Q230.1,1439 227.1,1440.3 L231,1451.8 H223 L219,1440.4 H216 V1451.8 H207.9 Z M216,1426.9 V1433.8 H222 V1426.9 Z" fill-rule="evenodd"/>
</g>
</svg>
<div class="title" style="top:1416.5px;left:287.5px"><span style="font-size:38.5px;display:inline-block;transform:scaleX(0.935);transform-origin:0 0;letter-spacing:0px">BT-1300.</span></div>
<div class="title" style="left:439px;top:1419.8px"><span style="font-size:33px;display:inline-block;transform:scaleX(0.9);transform-origin:0 0;color:#3a3a3a">Схема 1-2 (Схема-состав штанга)</span></div>
</body></html>
